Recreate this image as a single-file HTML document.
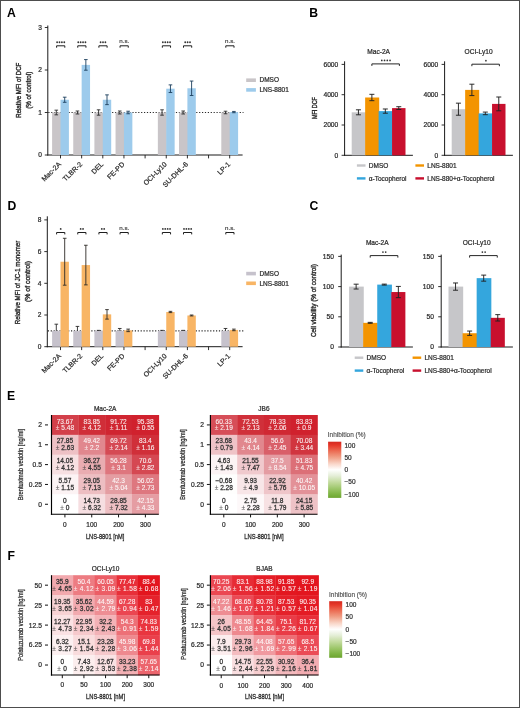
<!DOCTYPE html>
<html><head><meta charset="utf-8"><title>Figure</title>
<style>
html,body{margin:0;padding:0;background:#fff;overflow:hidden;}
svg{display:block;will-change:transform;}
text{font-family:"Liberation Sans", sans-serif;}
</style></head>
<body>
<svg width="520" height="708" viewBox="0 0 520 708" font-family='"Liberation Sans", sans-serif' fill="#2b2b2b">
<rect x="0" y="0" width="520" height="708" fill="#fff"/>
<text x="6.95" y="17.2" font-size="12.2" fill="#000" font-weight="bold" >A</text>
<text x="309.3" y="17.4" font-size="12.2" fill="#000" font-weight="bold" >B</text>
<text x="7.4" y="209.6" font-size="12.2" fill="#000" font-weight="bold" >D</text>
<text x="309.4" y="209.5" font-size="12.2" fill="#000" font-weight="bold" >C</text>
<text x="7.1" y="399.5" font-size="12.2" fill="#000" font-weight="bold" >E</text>
<text x="7.5" y="559.5" font-size="12.2" fill="#000" font-weight="bold" >F</text>
<line x1="47.8" y1="25.5" x2="47.8" y2="155.5" stroke="#1a1a1a" stroke-width="1" />
<line x1="47.3" y1="155" x2="242.6" y2="155" stroke="#1a1a1a" stroke-width="1" />
<line x1="44.8" y1="155" x2="47.8" y2="155" stroke="#1a1a1a" stroke-width="0.9" />
<text x="41.8" y="157.4" font-size="6.6" text-anchor="end" stroke="#2b2b2b" stroke-width="0.22" >0</text>
<line x1="44.8" y1="112.5" x2="47.8" y2="112.5" stroke="#1a1a1a" stroke-width="0.9" />
<text x="41.8" y="114.9" font-size="6.6" text-anchor="end" stroke="#2b2b2b" stroke-width="0.22" >1</text>
<line x1="44.8" y1="70" x2="47.8" y2="70" stroke="#1a1a1a" stroke-width="0.9" />
<text x="41.8" y="72.4" font-size="6.6" text-anchor="end" stroke="#2b2b2b" stroke-width="0.22" >2</text>
<line x1="44.8" y1="27.5" x2="47.8" y2="27.5" stroke="#1a1a1a" stroke-width="0.9" />
<text x="41.8" y="29.9" font-size="6.6" text-anchor="end" stroke="#2b2b2b" stroke-width="0.22" >3</text>
<line x1="60.5" y1="155" x2="60.5" y2="158.4" stroke="#1a1a1a" stroke-width="0.9" />
<line x1="81.65" y1="155" x2="81.65" y2="158.4" stroke="#1a1a1a" stroke-width="0.9" />
<line x1="102.8" y1="155" x2="102.8" y2="158.4" stroke="#1a1a1a" stroke-width="0.9" />
<line x1="123.95" y1="155" x2="123.95" y2="158.4" stroke="#1a1a1a" stroke-width="0.9" />
<line x1="145.1" y1="155" x2="145.1" y2="158.4" stroke="#1a1a1a" stroke-width="0.9" />
<line x1="166.25" y1="155" x2="166.25" y2="158.4" stroke="#1a1a1a" stroke-width="0.9" />
<line x1="187.4" y1="155" x2="187.4" y2="158.4" stroke="#1a1a1a" stroke-width="0.9" />
<line x1="208.55" y1="155" x2="208.55" y2="158.4" stroke="#1a1a1a" stroke-width="0.9" />
<line x1="229.7" y1="155" x2="229.7" y2="158.4" stroke="#1a1a1a" stroke-width="0.9" />
<line x1="48.3" y1="112.5" x2="243.5" y2="112.5" stroke="#2a2a2a" stroke-width="1.05" stroke-dasharray="1.2 1.7"/>
<rect x="52.1" y="112.5" width="9" height="42.5" fill="#c9c5c8" />
<rect x="60.5" y="99.75" width="8.4" height="55.25" fill="#9dcbec" />
<rect x="73.25" y="112.5" width="9" height="42.5" fill="#c9c5c8" />
<rect x="81.65" y="64.9" width="8.4" height="90.1" fill="#9dcbec" />
<rect x="94.4" y="112.5" width="9" height="42.5" fill="#c9c5c8" />
<rect x="102.8" y="99.75" width="8.4" height="55.25" fill="#9dcbec" />
<rect x="115.55" y="112.5" width="9" height="42.5" fill="#c9c5c8" />
<rect x="123.95" y="112.5" width="8.4" height="42.5" fill="#9dcbec" />
<rect x="157.85" y="112.5" width="9" height="42.5" fill="#c9c5c8" />
<rect x="166.25" y="88.7" width="8.4" height="66.3" fill="#9dcbec" />
<rect x="179" y="112.5" width="9" height="42.5" fill="#c9c5c8" />
<rect x="187.4" y="88.27" width="8.4" height="66.73" fill="#9dcbec" />
<rect x="221.3" y="112.5" width="9" height="42.5" fill="#c9c5c8" />
<rect x="229.7" y="112.08" width="8.4" height="42.92" fill="#9dcbec" />
<line x1="56.3" y1="110.16" x2="56.3" y2="114.84" stroke="#2a2a2a" stroke-width="0.9" />
<line x1="54.5" y1="110.16" x2="58.1" y2="110.16" stroke="#2a2a2a" stroke-width="0.9" />
<line x1="54.5" y1="114.84" x2="58.1" y2="114.84" stroke="#2a2a2a" stroke-width="0.9" />
<line x1="64.7" y1="97.2" x2="64.7" y2="102.3" stroke="#1c3f5e" stroke-width="0.9" />
<line x1="62.9" y1="97.2" x2="66.5" y2="97.2" stroke="#1c3f5e" stroke-width="0.9" />
<line x1="62.9" y1="102.3" x2="66.5" y2="102.3" stroke="#1c3f5e" stroke-width="0.9" />
<line x1="77.45" y1="111.01" x2="77.45" y2="113.99" stroke="#2a2a2a" stroke-width="0.9" />
<line x1="75.65" y1="111.01" x2="79.25" y2="111.01" stroke="#2a2a2a" stroke-width="0.9" />
<line x1="75.65" y1="113.99" x2="79.25" y2="113.99" stroke="#2a2a2a" stroke-width="0.9" />
<line x1="85.85" y1="59.59" x2="85.85" y2="70.21" stroke="#1c3f5e" stroke-width="0.9" />
<line x1="84.05" y1="59.59" x2="87.65" y2="59.59" stroke="#1c3f5e" stroke-width="0.9" />
<line x1="84.05" y1="70.21" x2="87.65" y2="70.21" stroke="#1c3f5e" stroke-width="0.9" />
<line x1="98.6" y1="109.82" x2="98.6" y2="115.18" stroke="#2a2a2a" stroke-width="0.9" />
<line x1="96.8" y1="109.82" x2="100.4" y2="109.82" stroke="#2a2a2a" stroke-width="0.9" />
<line x1="96.8" y1="115.18" x2="100.4" y2="115.18" stroke="#2a2a2a" stroke-width="0.9" />
<line x1="107" y1="94.86" x2="107" y2="104.64" stroke="#1c3f5e" stroke-width="0.9" />
<line x1="105.2" y1="94.86" x2="108.8" y2="94.86" stroke="#1c3f5e" stroke-width="0.9" />
<line x1="105.2" y1="104.64" x2="108.8" y2="104.64" stroke="#1c3f5e" stroke-width="0.9" />
<line x1="119.75" y1="111.01" x2="119.75" y2="113.99" stroke="#2a2a2a" stroke-width="0.9" />
<line x1="117.95" y1="111.01" x2="121.55" y2="111.01" stroke="#2a2a2a" stroke-width="0.9" />
<line x1="117.95" y1="113.99" x2="121.55" y2="113.99" stroke="#2a2a2a" stroke-width="0.9" />
<line x1="128.15" y1="111.22" x2="128.15" y2="113.78" stroke="#1c3f5e" stroke-width="0.9" />
<line x1="126.35" y1="111.22" x2="129.95" y2="111.22" stroke="#1c3f5e" stroke-width="0.9" />
<line x1="126.35" y1="113.78" x2="129.95" y2="113.78" stroke="#1c3f5e" stroke-width="0.9" />
<line x1="162.05" y1="109.82" x2="162.05" y2="115.18" stroke="#2a2a2a" stroke-width="0.9" />
<line x1="160.25" y1="109.82" x2="163.85" y2="109.82" stroke="#2a2a2a" stroke-width="0.9" />
<line x1="160.25" y1="115.18" x2="163.85" y2="115.18" stroke="#2a2a2a" stroke-width="0.9" />
<line x1="170.45" y1="84.88" x2="170.45" y2="92.53" stroke="#1c3f5e" stroke-width="0.9" />
<line x1="168.65" y1="84.88" x2="172.25" y2="84.88" stroke="#1c3f5e" stroke-width="0.9" />
<line x1="168.65" y1="92.53" x2="172.25" y2="92.53" stroke="#1c3f5e" stroke-width="0.9" />
<line x1="183.2" y1="111.01" x2="183.2" y2="113.99" stroke="#2a2a2a" stroke-width="0.9" />
<line x1="181.4" y1="111.01" x2="185" y2="111.01" stroke="#2a2a2a" stroke-width="0.9" />
<line x1="181.4" y1="113.99" x2="185" y2="113.99" stroke="#2a2a2a" stroke-width="0.9" />
<line x1="191.6" y1="81.05" x2="191.6" y2="95.5" stroke="#1c3f5e" stroke-width="0.9" />
<line x1="189.8" y1="81.05" x2="193.4" y2="81.05" stroke="#1c3f5e" stroke-width="0.9" />
<line x1="189.8" y1="95.5" x2="193.4" y2="95.5" stroke="#1c3f5e" stroke-width="0.9" />
<line x1="225.5" y1="111.22" x2="225.5" y2="113.78" stroke="#2a2a2a" stroke-width="0.9" />
<line x1="223.7" y1="111.22" x2="227.3" y2="111.22" stroke="#2a2a2a" stroke-width="0.9" />
<line x1="223.7" y1="113.78" x2="227.3" y2="113.78" stroke="#2a2a2a" stroke-width="0.9" />
<line x1="233.9" y1="111.44" x2="233.9" y2="112.71" stroke="#1c3f5e" stroke-width="0.9" />
<line x1="232.1" y1="111.44" x2="235.7" y2="111.44" stroke="#1c3f5e" stroke-width="0.9" />
<line x1="232.1" y1="112.71" x2="235.7" y2="112.71" stroke="#1c3f5e" stroke-width="0.9" />
<path d="M56.6,47.7 V45.8 H64.8 V47.7" fill="none" stroke="#1e1e1e" stroke-width="1"/>
<circle cx="57.1" cy="42.25" r="0.9" fill="#333"/>
<circle cx="59.5" cy="42.25" r="0.9" fill="#333"/>
<circle cx="61.9" cy="42.25" r="0.9" fill="#333"/>
<circle cx="64.3" cy="42.25" r="0.9" fill="#333"/>
<path d="M77.75,47.7 V45.8 H85.95 V47.7" fill="none" stroke="#1e1e1e" stroke-width="1"/>
<circle cx="78.25" cy="42.25" r="0.9" fill="#333"/>
<circle cx="80.65" cy="42.25" r="0.9" fill="#333"/>
<circle cx="83.05" cy="42.25" r="0.9" fill="#333"/>
<circle cx="85.45" cy="42.25" r="0.9" fill="#333"/>
<path d="M98.9,47.7 V45.8 H107.1 V47.7" fill="none" stroke="#1e1e1e" stroke-width="1"/>
<circle cx="100.6" cy="42.25" r="0.9" fill="#333"/>
<circle cx="103" cy="42.25" r="0.9" fill="#333"/>
<circle cx="105.4" cy="42.25" r="0.9" fill="#333"/>
<path d="M120.05,47.7 V45.8 H128.25 V47.7" fill="none" stroke="#1e1e1e" stroke-width="1"/>
<text x="124.25" y="43.2" font-size="6.2" text-anchor="middle" stroke="#2b2b2b" stroke-width="0.12" >n.s.</text>
<path d="M162.35,47.7 V45.8 H170.55 V47.7" fill="none" stroke="#1e1e1e" stroke-width="1"/>
<circle cx="162.85" cy="42.25" r="0.9" fill="#333"/>
<circle cx="165.25" cy="42.25" r="0.9" fill="#333"/>
<circle cx="167.65" cy="42.25" r="0.9" fill="#333"/>
<circle cx="170.05" cy="42.25" r="0.9" fill="#333"/>
<path d="M183.5,47.7 V45.8 H191.7 V47.7" fill="none" stroke="#1e1e1e" stroke-width="1"/>
<circle cx="185.2" cy="42.25" r="0.9" fill="#333"/>
<circle cx="187.6" cy="42.25" r="0.9" fill="#333"/>
<circle cx="190" cy="42.25" r="0.9" fill="#333"/>
<path d="M225.8,47.7 V45.8 H234 V47.7" fill="none" stroke="#1e1e1e" stroke-width="1"/>
<text x="230" y="43.2" font-size="6.2" text-anchor="middle" stroke="#2b2b2b" stroke-width="0.12" >n.s.</text>
<text transform="translate(61.5,164.8) rotate(-45)" font-size="7" text-anchor="end" stroke="#2b2b2b" stroke-width="0.22" >Mac-2A</text>
<text transform="translate(82.65,164.8) rotate(-45)" font-size="7" text-anchor="end" stroke="#2b2b2b" stroke-width="0.22" >TLBR-2</text>
<text transform="translate(103.8,164.8) rotate(-45)" font-size="7" text-anchor="end" stroke="#2b2b2b" stroke-width="0.22" >DEL</text>
<text transform="translate(124.95,164.8) rotate(-45)" font-size="7" text-anchor="end" stroke="#2b2b2b" stroke-width="0.22" >FE-PD</text>
<text transform="translate(167.25,164.8) rotate(-45)" font-size="7" text-anchor="end" stroke="#2b2b2b" stroke-width="0.22" >OCI-Ly10</text>
<text transform="translate(188.4,164.8) rotate(-45)" font-size="7" text-anchor="end" stroke="#2b2b2b" stroke-width="0.22" >SU-DHL-6</text>
<text transform="translate(230.7,164.8) rotate(-45)" font-size="7" text-anchor="end" stroke="#2b2b2b" stroke-width="0.22" >LP-1</text>
<text transform="translate(21.2,90.25) rotate(-90)" font-size="7.3" text-anchor="middle" textLength="55" lengthAdjust="spacingAndGlyphs" stroke="#2b2b2b" stroke-width="0.38" >Relative MFI of DCF</text>
<text transform="translate(30.7,90.25) rotate(-90)" font-size="7.3" text-anchor="middle" textLength="37" lengthAdjust="spacingAndGlyphs" stroke="#2b2b2b" stroke-width="0.38" >(% of control)</text>
<rect x="246.2" y="78.4" width="9.7" height="3.6" fill="#c9c5c8" />
<text x="259.5" y="82.4" font-size="6.5" stroke="#2b2b2b" stroke-width="0.22" >DMSO</text>
<rect x="246.2" y="88.1" width="9.7" height="3.6" fill="#9dcbec" />
<text x="259.5" y="92.2" font-size="6.5" stroke="#2b2b2b" stroke-width="0.22" >LNS-8801</text>
<line x1="47.3" y1="216.3" x2="47.3" y2="347.2" stroke="#1a1a1a" stroke-width="1" />
<line x1="46.8" y1="346.7" x2="242.6" y2="346.7" stroke="#1a1a1a" stroke-width="1" />
<line x1="44.3" y1="346.7" x2="47.3" y2="346.7" stroke="#1a1a1a" stroke-width="0.9" />
<text x="41.3" y="349.1" font-size="6.6" text-anchor="end" stroke="#2b2b2b" stroke-width="0.22" >0</text>
<line x1="44.3" y1="315" x2="47.3" y2="315" stroke="#1a1a1a" stroke-width="0.9" />
<text x="41.3" y="317.4" font-size="6.6" text-anchor="end" stroke="#2b2b2b" stroke-width="0.22" >2</text>
<line x1="44.3" y1="283.3" x2="47.3" y2="283.3" stroke="#1a1a1a" stroke-width="0.9" />
<text x="41.3" y="285.7" font-size="6.6" text-anchor="end" stroke="#2b2b2b" stroke-width="0.22" >4</text>
<line x1="44.3" y1="251.6" x2="47.3" y2="251.6" stroke="#1a1a1a" stroke-width="0.9" />
<text x="41.3" y="254" font-size="6.6" text-anchor="end" stroke="#2b2b2b" stroke-width="0.22" >6</text>
<line x1="44.3" y1="219.9" x2="47.3" y2="219.9" stroke="#1a1a1a" stroke-width="0.9" />
<text x="41.3" y="222.3" font-size="6.6" text-anchor="end" stroke="#2b2b2b" stroke-width="0.22" >8</text>
<line x1="60.5" y1="346.7" x2="60.5" y2="350.1" stroke="#1a1a1a" stroke-width="0.9" />
<line x1="81.65" y1="346.7" x2="81.65" y2="350.1" stroke="#1a1a1a" stroke-width="0.9" />
<line x1="102.8" y1="346.7" x2="102.8" y2="350.1" stroke="#1a1a1a" stroke-width="0.9" />
<line x1="123.95" y1="346.7" x2="123.95" y2="350.1" stroke="#1a1a1a" stroke-width="0.9" />
<line x1="145.1" y1="346.7" x2="145.1" y2="350.1" stroke="#1a1a1a" stroke-width="0.9" />
<line x1="166.25" y1="346.7" x2="166.25" y2="350.1" stroke="#1a1a1a" stroke-width="0.9" />
<line x1="187.4" y1="346.7" x2="187.4" y2="350.1" stroke="#1a1a1a" stroke-width="0.9" />
<line x1="208.55" y1="346.7" x2="208.55" y2="350.1" stroke="#1a1a1a" stroke-width="0.9" />
<line x1="229.7" y1="346.7" x2="229.7" y2="350.1" stroke="#1a1a1a" stroke-width="0.9" />
<line x1="47.8" y1="330.85" x2="243.5" y2="330.85" stroke="#2a2a2a" stroke-width="1.05" stroke-dasharray="1.2 1.7"/>
<rect x="52.1" y="330.85" width="9" height="15.85" fill="#c6c2cc" />
<rect x="60.5" y="261.74" width="8.4" height="84.96" fill="#f8b565" />
<rect x="73.25" y="330.85" width="9" height="15.85" fill="#c6c2cc" />
<rect x="81.65" y="265.07" width="8.4" height="81.63" fill="#f8b565" />
<rect x="94.4" y="330.85" width="9" height="15.85" fill="#c6c2cc" />
<rect x="102.8" y="314.37" width="8.4" height="32.33" fill="#f8b565" />
<rect x="115.55" y="330.85" width="9" height="15.85" fill="#c6c2cc" />
<rect x="123.95" y="330.37" width="8.4" height="16.33" fill="#f8b565" />
<rect x="157.85" y="330.85" width="9" height="15.85" fill="#c6c2cc" />
<rect x="166.25" y="311.99" width="8.4" height="34.71" fill="#f8b565" />
<rect x="179" y="330.85" width="9" height="15.85" fill="#c6c2cc" />
<rect x="187.4" y="315.48" width="8.4" height="31.22" fill="#f8b565" />
<rect x="221.3" y="330.85" width="9" height="15.85" fill="#c6c2cc" />
<rect x="229.7" y="329.9" width="8.4" height="16.8" fill="#f8b565" />
<line x1="56.3" y1="324.19" x2="56.3" y2="330.85" stroke="#2a2a2a" stroke-width="0.9" />
<line x1="54.5" y1="324.19" x2="58.1" y2="324.19" stroke="#2a2a2a" stroke-width="0.9" />
<line x1="64.7" y1="238.29" x2="64.7" y2="285.2" stroke="#2e2a26" stroke-width="0.9" />
<line x1="62.9" y1="238.29" x2="66.5" y2="238.29" stroke="#2e2a26" stroke-width="0.9" />
<line x1="62.9" y1="285.2" x2="66.5" y2="285.2" stroke="#2e2a26" stroke-width="0.9" />
<line x1="77.45" y1="326.41" x2="77.45" y2="330.85" stroke="#2a2a2a" stroke-width="0.9" />
<line x1="75.65" y1="326.41" x2="79.25" y2="326.41" stroke="#2a2a2a" stroke-width="0.9" />
<line x1="85.85" y1="245.26" x2="85.85" y2="284.88" stroke="#2e2a26" stroke-width="0.9" />
<line x1="84.05" y1="245.26" x2="87.65" y2="245.26" stroke="#2e2a26" stroke-width="0.9" />
<line x1="84.05" y1="284.88" x2="87.65" y2="284.88" stroke="#2e2a26" stroke-width="0.9" />
<line x1="98.6" y1="330.37" x2="98.6" y2="330.85" stroke="#2a2a2a" stroke-width="0.9" />
<line x1="96.8" y1="330.37" x2="100.4" y2="330.37" stroke="#2a2a2a" stroke-width="0.9" />
<line x1="107" y1="309.61" x2="107" y2="319.12" stroke="#2e2a26" stroke-width="0.9" />
<line x1="105.2" y1="309.61" x2="108.8" y2="309.61" stroke="#2e2a26" stroke-width="0.9" />
<line x1="105.2" y1="319.12" x2="108.8" y2="319.12" stroke="#2e2a26" stroke-width="0.9" />
<line x1="119.75" y1="328.47" x2="119.75" y2="330.85" stroke="#2a2a2a" stroke-width="0.9" />
<line x1="117.95" y1="328.47" x2="121.55" y2="328.47" stroke="#2a2a2a" stroke-width="0.9" />
<line x1="128.15" y1="329.11" x2="128.15" y2="331.64" stroke="#2e2a26" stroke-width="0.9" />
<line x1="126.35" y1="329.11" x2="129.95" y2="329.11" stroke="#2e2a26" stroke-width="0.9" />
<line x1="126.35" y1="331.64" x2="129.95" y2="331.64" stroke="#2e2a26" stroke-width="0.9" />
<line x1="162.05" y1="330.37" x2="162.05" y2="330.85" stroke="#2a2a2a" stroke-width="0.9" />
<line x1="160.25" y1="330.37" x2="163.85" y2="330.37" stroke="#2a2a2a" stroke-width="0.9" />
<line x1="170.45" y1="311.35" x2="170.45" y2="312.62" stroke="#2e2a26" stroke-width="0.9" />
<line x1="168.65" y1="311.35" x2="172.25" y2="311.35" stroke="#2e2a26" stroke-width="0.9" />
<line x1="168.65" y1="312.62" x2="172.25" y2="312.62" stroke="#2e2a26" stroke-width="0.9" />
<line x1="183.2" y1="330.37" x2="183.2" y2="330.85" stroke="#2a2a2a" stroke-width="0.9" />
<line x1="181.4" y1="330.37" x2="185" y2="330.37" stroke="#2a2a2a" stroke-width="0.9" />
<line x1="191.6" y1="315" x2="191.6" y2="315.95" stroke="#2e2a26" stroke-width="0.9" />
<line x1="189.8" y1="315" x2="193.4" y2="315" stroke="#2e2a26" stroke-width="0.9" />
<line x1="189.8" y1="315.95" x2="193.4" y2="315.95" stroke="#2e2a26" stroke-width="0.9" />
<line x1="225.5" y1="328.47" x2="225.5" y2="330.85" stroke="#2a2a2a" stroke-width="0.9" />
<line x1="223.7" y1="328.47" x2="227.3" y2="328.47" stroke="#2a2a2a" stroke-width="0.9" />
<line x1="233.9" y1="329.11" x2="233.9" y2="330.69" stroke="#2e2a26" stroke-width="0.9" />
<line x1="232.1" y1="329.11" x2="235.7" y2="329.11" stroke="#2e2a26" stroke-width="0.9" />
<line x1="232.1" y1="330.69" x2="235.7" y2="330.69" stroke="#2e2a26" stroke-width="0.9" />
<path d="M56.6,234.4 V232.5 H64.8 V234.4" fill="none" stroke="#1e1e1e" stroke-width="1"/>
<circle cx="60.7" cy="228.95" r="0.9" fill="#333"/>
<path d="M77.75,234.4 V232.5 H85.95 V234.4" fill="none" stroke="#1e1e1e" stroke-width="1"/>
<circle cx="80.65" cy="228.95" r="0.9" fill="#333"/>
<circle cx="83.05" cy="228.95" r="0.9" fill="#333"/>
<path d="M98.9,234.4 V232.5 H107.1 V234.4" fill="none" stroke="#1e1e1e" stroke-width="1"/>
<circle cx="101.8" cy="228.95" r="0.9" fill="#333"/>
<circle cx="104.2" cy="228.95" r="0.9" fill="#333"/>
<path d="M120.05,234.4 V232.5 H128.25 V234.4" fill="none" stroke="#1e1e1e" stroke-width="1"/>
<text x="124.25" y="229.9" font-size="6.2" text-anchor="middle" stroke="#2b2b2b" stroke-width="0.12" >n.s.</text>
<path d="M162.35,234.4 V232.5 H170.55 V234.4" fill="none" stroke="#1e1e1e" stroke-width="1"/>
<circle cx="162.85" cy="228.95" r="0.9" fill="#333"/>
<circle cx="165.25" cy="228.95" r="0.9" fill="#333"/>
<circle cx="167.65" cy="228.95" r="0.9" fill="#333"/>
<circle cx="170.05" cy="228.95" r="0.9" fill="#333"/>
<path d="M183.5,234.4 V232.5 H191.7 V234.4" fill="none" stroke="#1e1e1e" stroke-width="1"/>
<circle cx="184" cy="228.95" r="0.9" fill="#333"/>
<circle cx="186.4" cy="228.95" r="0.9" fill="#333"/>
<circle cx="188.8" cy="228.95" r="0.9" fill="#333"/>
<circle cx="191.2" cy="228.95" r="0.9" fill="#333"/>
<path d="M225.8,234.4 V232.5 H234 V234.4" fill="none" stroke="#1e1e1e" stroke-width="1"/>
<text x="230" y="229.9" font-size="6.2" text-anchor="middle" stroke="#2b2b2b" stroke-width="0.12" >n.s.</text>
<text transform="translate(61.5,356.5) rotate(-45)" font-size="7" text-anchor="end" stroke="#2b2b2b" stroke-width="0.22" >Mac-2A</text>
<text transform="translate(82.65,356.5) rotate(-45)" font-size="7" text-anchor="end" stroke="#2b2b2b" stroke-width="0.22" >TLBR-2</text>
<text transform="translate(103.8,356.5) rotate(-45)" font-size="7" text-anchor="end" stroke="#2b2b2b" stroke-width="0.22" >DEL</text>
<text transform="translate(124.95,356.5) rotate(-45)" font-size="7" text-anchor="end" stroke="#2b2b2b" stroke-width="0.22" >FE-PD</text>
<text transform="translate(167.25,356.5) rotate(-45)" font-size="7" text-anchor="end" stroke="#2b2b2b" stroke-width="0.22" >OCI-Ly10</text>
<text transform="translate(188.4,356.5) rotate(-45)" font-size="7" text-anchor="end" stroke="#2b2b2b" stroke-width="0.22" >SU-DHL-6</text>
<text transform="translate(230.7,356.5) rotate(-45)" font-size="7" text-anchor="end" stroke="#2b2b2b" stroke-width="0.22" >LP-1</text>
<text transform="translate(20.3,282.5) rotate(-90)" font-size="7.3" text-anchor="middle" textLength="83.5" lengthAdjust="spacingAndGlyphs" stroke="#2b2b2b" stroke-width="0.38" >Relative MFI of JC-1 monomer</text>
<text transform="translate(29.7,281.5) rotate(-90)" font-size="7.3" text-anchor="middle" textLength="41" lengthAdjust="spacingAndGlyphs" stroke="#2b2b2b" stroke-width="0.38" >(% of control)</text>
<rect x="246.2" y="271.8" width="9.7" height="3.6" fill="#c6c2cc" />
<text x="259.5" y="275.8" font-size="6.5" stroke="#2b2b2b" stroke-width="0.22" >DMSO</text>
<rect x="246.2" y="281.5" width="9.7" height="3.6" fill="#f8b565" />
<text x="259.5" y="285.6" font-size="6.5" stroke="#2b2b2b" stroke-width="0.22" >LNS-8801</text>
<line x1="344.6" y1="61.3" x2="344.6" y2="155.8" stroke="#1a1a1a" stroke-width="1" />
<line x1="344.1" y1="155.3" x2="412.9" y2="155.3" stroke="#1a1a1a" stroke-width="1" />
<line x1="341.6" y1="155.3" x2="344.6" y2="155.3" stroke="#1a1a1a" stroke-width="0.9" />
<text x="338.3" y="157.7" font-size="6.7" text-anchor="end" stroke="#2b2b2b" stroke-width="0.22" >0</text>
<line x1="341.6" y1="125" x2="344.6" y2="125" stroke="#1a1a1a" stroke-width="0.9" />
<text x="338.3" y="127.4" font-size="6.7" text-anchor="end" stroke="#2b2b2b" stroke-width="0.22" >2000</text>
<line x1="341.6" y1="94.7" x2="344.6" y2="94.7" stroke="#1a1a1a" stroke-width="0.9" />
<text x="338.3" y="97.1" font-size="6.7" text-anchor="end" stroke="#2b2b2b" stroke-width="0.22" >4000</text>
<line x1="341.6" y1="64.4" x2="344.6" y2="64.4" stroke="#1a1a1a" stroke-width="0.9" />
<text x="338.3" y="66.8" font-size="6.7" text-anchor="end" stroke="#2b2b2b" stroke-width="0.22" >6000</text>
<rect x="351.7" y="112.3" width="14.05" height="43" fill="#c6c6c9" />
<rect x="365.15" y="97.5" width="14.05" height="57.8" fill="#f39400" />
<rect x="378.6" y="111.11" width="14.05" height="44.19" fill="#34a6dd" />
<rect x="392.05" y="108.11" width="13.45" height="47.19" fill="#c8102e" />
<line x1="358.43" y1="109.8" x2="358.43" y2="114.8" stroke="#222" stroke-width="0.95" />
<line x1="355.93" y1="109.8" x2="360.93" y2="109.8" stroke="#222" stroke-width="0.95" />
<line x1="355.93" y1="114.8" x2="360.93" y2="114.8" stroke="#222" stroke-width="0.95" />
<line x1="371.88" y1="94.32" x2="371.88" y2="100.68" stroke="#222" stroke-width="0.95" />
<line x1="369.38" y1="94.32" x2="374.38" y2="94.32" stroke="#222" stroke-width="0.95" />
<line x1="369.38" y1="100.68" x2="374.38" y2="100.68" stroke="#222" stroke-width="0.95" />
<line x1="385.32" y1="108.99" x2="385.32" y2="113.23" stroke="#222" stroke-width="0.95" />
<line x1="382.82" y1="108.99" x2="387.82" y2="108.99" stroke="#222" stroke-width="0.95" />
<line x1="382.82" y1="113.23" x2="387.82" y2="113.23" stroke="#222" stroke-width="0.95" />
<line x1="398.77" y1="106.71" x2="398.77" y2="109.5" stroke="#222" stroke-width="0.95" />
<line x1="396.27" y1="106.71" x2="401.27" y2="106.71" stroke="#222" stroke-width="0.95" />
<line x1="396.27" y1="109.5" x2="401.27" y2="109.5" stroke="#222" stroke-width="0.95" />
<path d="M371.88,65.9 V63.9 H399.38 V65.9" fill="none" stroke="#262626" stroke-width="1"/>
<circle cx="381.8" cy="60.4" r="0.85" fill="#333"/>
<circle cx="384.55" cy="60.4" r="0.85" fill="#333"/>
<circle cx="387.3" cy="60.4" r="0.85" fill="#333"/>
<circle cx="390.05" cy="60.4" r="0.85" fill="#333"/>
<text x="378.6" y="53.9" font-size="6.6" text-anchor="middle" stroke="#2b2b2b" stroke-width="0.22" >Mac-2A</text>
<text transform="translate(316.5,108.1) rotate(-90)" font-size="7.3" text-anchor="middle" textLength="22" lengthAdjust="spacingAndGlyphs" stroke="#2b2b2b" stroke-width="0.38" >MFI DCF</text>
<line x1="444.6" y1="61.3" x2="444.6" y2="155.8" stroke="#1a1a1a" stroke-width="1" />
<line x1="444.1" y1="155.3" x2="512.9" y2="155.3" stroke="#1a1a1a" stroke-width="1" />
<line x1="441.6" y1="155.3" x2="444.6" y2="155.3" stroke="#1a1a1a" stroke-width="0.9" />
<text x="438.3" y="157.7" font-size="6.7" text-anchor="end" stroke="#2b2b2b" stroke-width="0.22" >0</text>
<line x1="441.6" y1="125" x2="444.6" y2="125" stroke="#1a1a1a" stroke-width="0.9" />
<text x="438.3" y="127.4" font-size="6.7" text-anchor="end" stroke="#2b2b2b" stroke-width="0.22" >2000</text>
<line x1="441.6" y1="94.7" x2="444.6" y2="94.7" stroke="#1a1a1a" stroke-width="0.9" />
<text x="438.3" y="97.1" font-size="6.7" text-anchor="end" stroke="#2b2b2b" stroke-width="0.22" >4000</text>
<line x1="441.6" y1="64.4" x2="444.6" y2="64.4" stroke="#1a1a1a" stroke-width="0.9" />
<text x="438.3" y="66.8" font-size="6.7" text-anchor="end" stroke="#2b2b2b" stroke-width="0.22" >6000</text>
<rect x="451.7" y="109.2" width="14.05" height="46.1" fill="#c6c6c9" />
<rect x="465.15" y="89.9" width="14.05" height="65.4" fill="#f39400" />
<rect x="478.6" y="113.4" width="14.05" height="41.9" fill="#34a6dd" />
<rect x="492.05" y="103.9" width="13.45" height="51.4" fill="#c8102e" />
<line x1="458.43" y1="103.17" x2="458.43" y2="115.23" stroke="#222" stroke-width="0.95" />
<line x1="455.93" y1="103.17" x2="460.93" y2="103.17" stroke="#222" stroke-width="0.95" />
<line x1="455.93" y1="115.23" x2="460.93" y2="115.23" stroke="#222" stroke-width="0.95" />
<line x1="471.88" y1="84.2" x2="471.88" y2="95.59" stroke="#222" stroke-width="0.95" />
<line x1="469.38" y1="84.2" x2="474.38" y2="84.2" stroke="#222" stroke-width="0.95" />
<line x1="469.38" y1="95.59" x2="474.38" y2="95.59" stroke="#222" stroke-width="0.95" />
<line x1="485.32" y1="112.09" x2="485.32" y2="114.7" stroke="#222" stroke-width="0.95" />
<line x1="482.82" y1="112.09" x2="487.82" y2="112.09" stroke="#222" stroke-width="0.95" />
<line x1="482.82" y1="114.7" x2="487.82" y2="114.7" stroke="#222" stroke-width="0.95" />
<line x1="498.77" y1="97" x2="498.77" y2="110.79" stroke="#222" stroke-width="0.95" />
<line x1="496.27" y1="97" x2="501.27" y2="97" stroke="#222" stroke-width="0.95" />
<line x1="496.27" y1="110.79" x2="501.27" y2="110.79" stroke="#222" stroke-width="0.95" />
<path d="M471.88,66.2 V64.2 H499.38 V66.2" fill="none" stroke="#262626" stroke-width="1"/>
<circle cx="485.93" cy="60.7" r="0.85" fill="#333"/>
<text x="478.6" y="53.9" font-size="6.6" text-anchor="middle" stroke="#2b2b2b" stroke-width="0.22" >OCI-Ly10</text>
<line x1="341.2" y1="254.6" x2="341.2" y2="347.5" stroke="#1a1a1a" stroke-width="1" />
<line x1="340.7" y1="347" x2="412.9" y2="347" stroke="#1a1a1a" stroke-width="1" />
<line x1="338.2" y1="347" x2="341.2" y2="347" stroke="#1a1a1a" stroke-width="0.9" />
<text x="333.9" y="349.4" font-size="6.7" text-anchor="end" stroke="#2b2b2b" stroke-width="0.22" >0</text>
<line x1="338.2" y1="316.8" x2="341.2" y2="316.8" stroke="#1a1a1a" stroke-width="0.9" />
<text x="333.9" y="319.2" font-size="6.7" text-anchor="end" stroke="#2b2b2b" stroke-width="0.22" >50</text>
<line x1="338.2" y1="286.6" x2="341.2" y2="286.6" stroke="#1a1a1a" stroke-width="0.9" />
<text x="333.9" y="289" font-size="6.7" text-anchor="end" stroke="#2b2b2b" stroke-width="0.22" >100</text>
<line x1="338.2" y1="256.4" x2="341.2" y2="256.4" stroke="#1a1a1a" stroke-width="0.9" />
<text x="333.9" y="258.8" font-size="6.7" text-anchor="end" stroke="#2b2b2b" stroke-width="0.22" >150</text>
<rect x="349.1" y="286.6" width="14.67" height="60.4" fill="#c6c6c9" />
<rect x="363.17" y="322.84" width="14.67" height="24.16" fill="#f39400" />
<rect x="377.24" y="284.61" width="14.67" height="62.39" fill="#34a6dd" />
<rect x="391.31" y="292.04" width="14.07" height="54.96" fill="#c8102e" />
<line x1="356.14" y1="284.18" x2="356.14" y2="289.02" stroke="#222" stroke-width="0.95" />
<line x1="353.64" y1="284.18" x2="358.64" y2="284.18" stroke="#222" stroke-width="0.95" />
<line x1="353.64" y1="289.02" x2="358.64" y2="289.02" stroke="#222" stroke-width="0.95" />
<line x1="370.21" y1="322.36" x2="370.21" y2="323.32" stroke="#222" stroke-width="0.95" />
<line x1="367.71" y1="322.36" x2="372.71" y2="322.36" stroke="#222" stroke-width="0.95" />
<line x1="367.71" y1="323.32" x2="372.71" y2="323.32" stroke="#222" stroke-width="0.95" />
<line x1="384.28" y1="284.12" x2="384.28" y2="285.09" stroke="#222" stroke-width="0.95" />
<line x1="381.78" y1="284.12" x2="386.78" y2="284.12" stroke="#222" stroke-width="0.95" />
<line x1="381.78" y1="285.09" x2="386.78" y2="285.09" stroke="#222" stroke-width="0.95" />
<line x1="398.35" y1="286.42" x2="398.35" y2="297.65" stroke="#222" stroke-width="0.95" />
<line x1="395.85" y1="286.42" x2="400.85" y2="286.42" stroke="#222" stroke-width="0.95" />
<line x1="395.85" y1="297.65" x2="400.85" y2="297.65" stroke="#222" stroke-width="0.95" />
<path d="M370.21,257.6 V255.6 H397.85 V257.6" fill="none" stroke="#262626" stroke-width="1"/>
<circle cx="382.95" cy="252.1" r="0.85" fill="#333"/>
<circle cx="385.7" cy="252.1" r="0.85" fill="#333"/>
<text x="377.24" y="245.3" font-size="6.6" text-anchor="middle" stroke="#2b2b2b" stroke-width="0.22" >Mac-2A</text>
<text transform="translate(316,300.6) rotate(-90)" font-size="7.3" text-anchor="middle" textLength="73" lengthAdjust="spacingAndGlyphs" stroke="#2b2b2b" stroke-width="0.38" >Cell viability (% of control)</text>
<line x1="441.2" y1="254.6" x2="441.2" y2="347.5" stroke="#1a1a1a" stroke-width="1" />
<line x1="440.7" y1="347" x2="512.9" y2="347" stroke="#1a1a1a" stroke-width="1" />
<line x1="438.2" y1="347" x2="441.2" y2="347" stroke="#1a1a1a" stroke-width="0.9" />
<text x="433.9" y="349.4" font-size="6.7" text-anchor="end" stroke="#2b2b2b" stroke-width="0.22" >0</text>
<line x1="438.2" y1="316.8" x2="441.2" y2="316.8" stroke="#1a1a1a" stroke-width="0.9" />
<text x="433.9" y="319.2" font-size="6.7" text-anchor="end" stroke="#2b2b2b" stroke-width="0.22" >50</text>
<line x1="438.2" y1="286.6" x2="441.2" y2="286.6" stroke="#1a1a1a" stroke-width="0.9" />
<text x="433.9" y="289" font-size="6.7" text-anchor="end" stroke="#2b2b2b" stroke-width="0.22" >100</text>
<line x1="438.2" y1="256.4" x2="441.2" y2="256.4" stroke="#1a1a1a" stroke-width="0.9" />
<text x="433.9" y="258.8" font-size="6.7" text-anchor="end" stroke="#2b2b2b" stroke-width="0.22" >150</text>
<rect x="448.5" y="286.6" width="14.68" height="60.4" fill="#c6c6c9" />
<rect x="462.58" y="333.23" width="14.68" height="13.77" fill="#f39400" />
<rect x="476.66" y="278.14" width="14.68" height="68.86" fill="#34a6dd" />
<rect x="490.74" y="317.83" width="14.08" height="29.17" fill="#c8102e" />
<line x1="455.54" y1="282.98" x2="455.54" y2="290.22" stroke="#222" stroke-width="0.95" />
<line x1="453.04" y1="282.98" x2="458.04" y2="282.98" stroke="#222" stroke-width="0.95" />
<line x1="453.04" y1="290.22" x2="458.04" y2="290.22" stroke="#222" stroke-width="0.95" />
<line x1="469.62" y1="331.05" x2="469.62" y2="335.4" stroke="#222" stroke-width="0.95" />
<line x1="467.12" y1="331.05" x2="472.12" y2="331.05" stroke="#222" stroke-width="0.95" />
<line x1="467.12" y1="335.4" x2="472.12" y2="335.4" stroke="#222" stroke-width="0.95" />
<line x1="483.7" y1="275.12" x2="483.7" y2="281.16" stroke="#222" stroke-width="0.95" />
<line x1="481.2" y1="275.12" x2="486.2" y2="275.12" stroke="#222" stroke-width="0.95" />
<line x1="481.2" y1="281.16" x2="486.2" y2="281.16" stroke="#222" stroke-width="0.95" />
<line x1="497.78" y1="314.63" x2="497.78" y2="321.03" stroke="#222" stroke-width="0.95" />
<line x1="495.28" y1="314.63" x2="500.28" y2="314.63" stroke="#222" stroke-width="0.95" />
<line x1="495.28" y1="321.03" x2="500.28" y2="321.03" stroke="#222" stroke-width="0.95" />
<path d="M469.62,257.6 V255.6 H497.28 V257.6" fill="none" stroke="#262626" stroke-width="1"/>
<circle cx="482.38" cy="252.1" r="0.85" fill="#333"/>
<circle cx="485.12" cy="252.1" r="0.85" fill="#333"/>
<text x="476.66" y="245.3" font-size="6.6" text-anchor="middle" stroke="#2b2b2b" stroke-width="0.22" >OCI-Ly10</text>
<rect x="356.9" y="164.3" width="8.6" height="2.4" fill="#c6c6c9" />
<text x="368.8" y="167.7" font-size="6.5" stroke="#2b2b2b" stroke-width="0.22" >DMSO</text>
<rect x="415.4" y="164.3" width="8.6" height="2.4" fill="#f39400" />
<text x="427.3" y="167.7" font-size="6.5" stroke="#2b2b2b" stroke-width="0.22" >LNS-8801</text>
<rect x="356.9" y="177.2" width="8.6" height="2.4" fill="#34a6dd" />
<text x="368.8" y="180.6" font-size="6.5" stroke="#2b2b2b" stroke-width="0.22" >α-Tocopherol</text>
<rect x="415.4" y="177.2" width="8.6" height="2.4" fill="#c8102e" />
<text x="427.3" y="180.6" font-size="6.5" stroke="#2b2b2b" stroke-width="0.22" >LNS-880+α-Tocopherol</text>
<rect x="354.7" y="356.5" width="8.6" height="2.4" fill="#c6c6c9" />
<text x="366.6" y="359.9" font-size="6.5" stroke="#2b2b2b" stroke-width="0.22" >DMSO</text>
<rect x="412.6" y="356.5" width="8.6" height="2.4" fill="#f39400" />
<text x="424.5" y="359.9" font-size="6.5" stroke="#2b2b2b" stroke-width="0.22" >LNS-8801</text>
<rect x="354.7" y="369.4" width="8.6" height="2.4" fill="#34a6dd" />
<text x="366.6" y="372.8" font-size="6.5" stroke="#2b2b2b" stroke-width="0.22" >α-Tocopherol</text>
<rect x="412.6" y="369.4" width="8.6" height="2.4" fill="#c8102e" />
<text x="424.5" y="372.8" font-size="6.5" stroke="#2b2b2b" stroke-width="0.22" >LNS-880+α-Tocopherol</text>
<rect x="51.5" y="415" width="27.13" height="20.14" fill="#d3404a" />
<rect x="78.33" y="415" width="27.13" height="20.14" fill="#d02e38" />
<rect x="105.15" y="415" width="27.13" height="20.14" fill="#d02531" />
<rect x="131.98" y="415" width="27.13" height="20.14" fill="#d0212d" />
<rect x="51.5" y="434.84" width="27.13" height="20.14" fill="#eec1c5" />
<rect x="78.33" y="434.84" width="27.13" height="20.14" fill="#e1878e" />
<rect x="105.15" y="434.84" width="27.13" height="20.14" fill="#d54a54" />
<rect x="131.98" y="434.84" width="27.13" height="20.14" fill="#d02f39" />
<rect x="51.5" y="454.68" width="27.13" height="20.14" fill="#f7e0e2" />
<rect x="78.33" y="454.68" width="27.13" height="20.14" fill="#e9acb1" />
<rect x="105.15" y="454.68" width="27.13" height="20.14" fill="#de767e" />
<rect x="131.98" y="454.68" width="27.13" height="20.14" fill="#d54852" />
<rect x="51.5" y="474.52" width="27.13" height="20.14" fill="#fcf3f4" />
<rect x="78.33" y="474.52" width="27.13" height="20.14" fill="#edbec2" />
<rect x="105.15" y="474.52" width="27.13" height="20.14" fill="#e49da2" />
<rect x="131.98" y="474.52" width="27.13" height="20.14" fill="#de777f" />
<rect x="51.5" y="494.36" width="27.13" height="20.14" fill="#ffffff" />
<rect x="78.33" y="494.36" width="27.13" height="20.14" fill="#f6dee1" />
<rect x="105.15" y="494.36" width="27.13" height="20.14" fill="#eebfc3" />
<rect x="131.98" y="494.36" width="27.13" height="20.14" fill="#e59da3" />
<text x="64.91" y="423.62" font-size="6.55" text-anchor="middle" fill="#ffffff" stroke="#ffffff" stroke-width="0.08"  fill-opacity="0.9">73.67</text>
<text x="64.91" y="430.42" font-size="6.55" text-anchor="middle" fill="#ffffff" stroke="#ffffff" stroke-width="0.08"  fill-opacity="0.9"><tspan fill-opacity="0.8" stroke-width="0.05">±</tspan><tspan dx="1.9" letter-spacing="0">5.48</tspan></text>
<text x="91.74" y="423.62" font-size="6.55" text-anchor="middle" fill="#ffffff" stroke="#ffffff" stroke-width="0.08"  fill-opacity="0.9">83.85</text>
<text x="91.74" y="430.42" font-size="6.55" text-anchor="middle" fill="#ffffff" stroke="#ffffff" stroke-width="0.08"  fill-opacity="0.9"><tspan fill-opacity="0.8" stroke-width="0.05">±</tspan><tspan dx="1.9" letter-spacing="0">4.12</tspan></text>
<text x="118.56" y="423.62" font-size="6.55" text-anchor="middle" fill="#ffffff" stroke="#ffffff" stroke-width="0.08"  fill-opacity="0.9">91.72</text>
<text x="118.56" y="430.42" font-size="6.55" text-anchor="middle" fill="#ffffff" stroke="#ffffff" stroke-width="0.08"  fill-opacity="0.9"><tspan fill-opacity="0.8" stroke-width="0.05">±</tspan><tspan dx="1.9" letter-spacing="0">1.11</tspan></text>
<text x="145.39" y="423.62" font-size="6.55" text-anchor="middle" fill="#ffffff" stroke="#ffffff" stroke-width="0.08"  fill-opacity="0.9">95.38</text>
<text x="145.39" y="430.42" font-size="6.55" text-anchor="middle" fill="#ffffff" stroke="#ffffff" stroke-width="0.08"  fill-opacity="0.9"><tspan fill-opacity="0.8" stroke-width="0.05">±</tspan><tspan dx="1.9" letter-spacing="0">0.55</tspan></text>
<text x="64.91" y="443.46" font-size="6.55" text-anchor="middle" fill="#333333" stroke="#333333" stroke-width="0.26" >27.85</text>
<text x="64.91" y="450.26" font-size="6.55" text-anchor="middle" fill="#333333" stroke="#333333" stroke-width="0.26" ><tspan fill-opacity="0.8" stroke-width="0.05">±</tspan><tspan dx="1.9" letter-spacing="0">2.63</tspan></text>
<text x="91.74" y="443.46" font-size="6.55" text-anchor="middle" fill="#ffffff" stroke="#ffffff" stroke-width="0.08"  fill-opacity="0.9">49.42</text>
<text x="91.74" y="450.26" font-size="6.55" text-anchor="middle" fill="#ffffff" stroke="#ffffff" stroke-width="0.08"  fill-opacity="0.9"><tspan fill-opacity="0.8" stroke-width="0.05">±</tspan><tspan dx="1.9" letter-spacing="0">2.2</tspan></text>
<text x="118.56" y="443.46" font-size="6.55" text-anchor="middle" fill="#ffffff" stroke="#ffffff" stroke-width="0.08"  fill-opacity="0.9">69.72</text>
<text x="118.56" y="450.26" font-size="6.55" text-anchor="middle" fill="#ffffff" stroke="#ffffff" stroke-width="0.08"  fill-opacity="0.9"><tspan fill-opacity="0.8" stroke-width="0.05">±</tspan><tspan dx="1.9" letter-spacing="0">2.14</tspan></text>
<text x="145.39" y="443.46" font-size="6.55" text-anchor="middle" fill="#ffffff" stroke="#ffffff" stroke-width="0.08"  fill-opacity="0.9">83.4</text>
<text x="145.39" y="450.26" font-size="6.55" text-anchor="middle" fill="#ffffff" stroke="#ffffff" stroke-width="0.08"  fill-opacity="0.9"><tspan fill-opacity="0.8" stroke-width="0.05">±</tspan><tspan dx="1.9" letter-spacing="0">1.16</tspan></text>
<text x="64.91" y="463.3" font-size="6.55" text-anchor="middle" fill="#333333" stroke="#333333" stroke-width="0.26" >14.05</text>
<text x="64.91" y="470.1" font-size="6.55" text-anchor="middle" fill="#333333" stroke="#333333" stroke-width="0.26" ><tspan fill-opacity="0.8" stroke-width="0.05">±</tspan><tspan dx="1.9" letter-spacing="0">4.12</tspan></text>
<text x="91.74" y="463.3" font-size="6.55" text-anchor="middle" fill="#333333" stroke="#333333" stroke-width="0.26" >36.27</text>
<text x="91.74" y="470.1" font-size="6.55" text-anchor="middle" fill="#333333" stroke="#333333" stroke-width="0.26" ><tspan fill-opacity="0.8" stroke-width="0.05">±</tspan><tspan dx="1.9" letter-spacing="0">4.55</tspan></text>
<text x="118.56" y="463.3" font-size="6.55" text-anchor="middle" fill="#ffffff" stroke="#ffffff" stroke-width="0.08"  fill-opacity="0.9">56.28</text>
<text x="118.56" y="470.1" font-size="6.55" text-anchor="middle" fill="#ffffff" stroke="#ffffff" stroke-width="0.08"  fill-opacity="0.9"><tspan fill-opacity="0.8" stroke-width="0.05">±</tspan><tspan dx="1.9" letter-spacing="0">3.1</tspan></text>
<text x="145.39" y="463.3" font-size="6.55" text-anchor="middle" fill="#ffffff" stroke="#ffffff" stroke-width="0.08"  fill-opacity="0.9">70.6</text>
<text x="145.39" y="470.1" font-size="6.55" text-anchor="middle" fill="#ffffff" stroke="#ffffff" stroke-width="0.08"  fill-opacity="0.9"><tspan fill-opacity="0.8" stroke-width="0.05">±</tspan><tspan dx="1.9" letter-spacing="0">2.82</tspan></text>
<text x="64.91" y="483.14" font-size="6.55" text-anchor="middle" fill="#333333" stroke="#333333" stroke-width="0.26" >5.57</text>
<text x="64.91" y="489.94" font-size="6.55" text-anchor="middle" fill="#333333" stroke="#333333" stroke-width="0.26" ><tspan fill-opacity="0.8" stroke-width="0.05">±</tspan><tspan dx="1.9" letter-spacing="0">1.15</tspan></text>
<text x="91.74" y="483.14" font-size="6.55" text-anchor="middle" fill="#333333" stroke="#333333" stroke-width="0.26" >29.05</text>
<text x="91.74" y="489.94" font-size="6.55" text-anchor="middle" fill="#333333" stroke="#333333" stroke-width="0.26" ><tspan fill-opacity="0.8" stroke-width="0.05">±</tspan><tspan dx="1.9" letter-spacing="0">7.13</tspan></text>
<text x="118.56" y="483.14" font-size="6.55" text-anchor="middle" fill="#ffffff" stroke="#ffffff" stroke-width="0.08"  fill-opacity="0.9">42.3</text>
<text x="118.56" y="489.94" font-size="6.55" text-anchor="middle" fill="#ffffff" stroke="#ffffff" stroke-width="0.08"  fill-opacity="0.9"><tspan fill-opacity="0.8" stroke-width="0.05">±</tspan><tspan dx="1.9" letter-spacing="0">5.04</tspan></text>
<text x="145.39" y="483.14" font-size="6.55" text-anchor="middle" fill="#ffffff" stroke="#ffffff" stroke-width="0.08"  fill-opacity="0.9">56.02</text>
<text x="145.39" y="489.94" font-size="6.55" text-anchor="middle" fill="#ffffff" stroke="#ffffff" stroke-width="0.08"  fill-opacity="0.9"><tspan fill-opacity="0.8" stroke-width="0.05">±</tspan><tspan dx="1.9" letter-spacing="0">2.73</tspan></text>
<text x="64.91" y="502.98" font-size="6.55" text-anchor="middle" fill="#333333" stroke="#333333" stroke-width="0.26" >0</text>
<text x="64.91" y="509.78" font-size="6.55" text-anchor="middle" fill="#333333" stroke="#333333" stroke-width="0.26" ><tspan fill-opacity="0.8" stroke-width="0.05">±</tspan><tspan dx="1.9" letter-spacing="0">0</tspan></text>
<text x="91.74" y="502.98" font-size="6.55" text-anchor="middle" fill="#333333" stroke="#333333" stroke-width="0.26" >14.73</text>
<text x="91.74" y="509.78" font-size="6.55" text-anchor="middle" fill="#333333" stroke="#333333" stroke-width="0.26" ><tspan fill-opacity="0.8" stroke-width="0.05">±</tspan><tspan dx="1.9" letter-spacing="0">6.32</tspan></text>
<text x="118.56" y="502.98" font-size="6.55" text-anchor="middle" fill="#333333" stroke="#333333" stroke-width="0.26" >28.85</text>
<text x="118.56" y="509.78" font-size="6.55" text-anchor="middle" fill="#333333" stroke="#333333" stroke-width="0.26" ><tspan fill-opacity="0.8" stroke-width="0.05">±</tspan><tspan dx="1.9" letter-spacing="0">7.32</tspan></text>
<text x="145.39" y="502.98" font-size="6.55" text-anchor="middle" fill="#ffffff" stroke="#ffffff" stroke-width="0.08"  fill-opacity="0.9">42.15</text>
<text x="145.39" y="509.78" font-size="6.55" text-anchor="middle" fill="#ffffff" stroke="#ffffff" stroke-width="0.08"  fill-opacity="0.9"><tspan fill-opacity="0.8" stroke-width="0.05">±</tspan><tspan dx="1.9" letter-spacing="0">4.33</tspan></text>
<line x1="51.5" y1="415" x2="51.5" y2="514.8" stroke="#000" stroke-width="1.15" />
<line x1="50.9" y1="514.2" x2="158.8" y2="514.2" stroke="#000" stroke-width="1.15" />
<line x1="45" y1="424.92" x2="48" y2="424.92" stroke="#111" stroke-width="1" />
<text x="41.9" y="427.32" font-size="6.7" text-anchor="end" stroke="#2b2b2b" stroke-width="0.22" >2</text>
<line x1="45" y1="444.76" x2="48" y2="444.76" stroke="#111" stroke-width="1" />
<text x="41.9" y="447.16" font-size="6.7" text-anchor="end" stroke="#2b2b2b" stroke-width="0.22" >1</text>
<line x1="45" y1="464.6" x2="48" y2="464.6" stroke="#111" stroke-width="1" />
<text x="41.9" y="467" font-size="6.7" text-anchor="end" stroke="#2b2b2b" stroke-width="0.22" >0.5</text>
<line x1="45" y1="484.44" x2="48" y2="484.44" stroke="#111" stroke-width="1" />
<text x="41.9" y="486.84" font-size="6.7" text-anchor="end" stroke="#2b2b2b" stroke-width="0.22" >0.25</text>
<line x1="45" y1="504.28" x2="48" y2="504.28" stroke="#111" stroke-width="1" />
<text x="41.9" y="506.68" font-size="6.7" text-anchor="end" stroke="#2b2b2b" stroke-width="0.22" >0</text>
<line x1="64.91" y1="514.2" x2="64.91" y2="517.4" stroke="#111" stroke-width="1" />
<text x="64.91" y="526.8" font-size="6.5" text-anchor="middle" stroke="#2b2b2b" stroke-width="0.22" >0</text>
<line x1="91.74" y1="514.2" x2="91.74" y2="517.4" stroke="#111" stroke-width="1" />
<text x="91.74" y="526.8" font-size="6.5" text-anchor="middle" stroke="#2b2b2b" stroke-width="0.22" >100</text>
<line x1="118.56" y1="514.2" x2="118.56" y2="517.4" stroke="#111" stroke-width="1" />
<text x="118.56" y="526.8" font-size="6.5" text-anchor="middle" stroke="#2b2b2b" stroke-width="0.22" >200</text>
<line x1="145.39" y1="514.2" x2="145.39" y2="517.4" stroke="#111" stroke-width="1" />
<text x="145.39" y="526.8" font-size="6.5" text-anchor="middle" stroke="#2b2b2b" stroke-width="0.22" >300</text>
<text x="105.15" y="410.9" font-size="6.5" text-anchor="middle" stroke="#2b2b2b" stroke-width="0.22" >Mac-2A</text>
<text x="105.15" y="538.5" font-size="7.5" text-anchor="middle" textLength="38.5" lengthAdjust="spacingAndGlyphs" stroke="#2b2b2b" stroke-width="0.3" >LNS-8801 [nM]</text>
<text transform="translate(22.6,464.6) rotate(-90)" font-size="6.6" text-anchor="middle" textLength="71.3" lengthAdjust="spacingAndGlyphs" stroke="#2b2b2b" stroke-width="0.25" >Brentuximab vedotin [ng/ml]</text>
<rect x="210.4" y="415" width="27.07" height="20.14" fill="#d64e58" />
<rect x="237.18" y="415" width="27.07" height="20.14" fill="#d0303a" />
<rect x="263.95" y="415" width="27.07" height="20.14" fill="#d02833" />
<rect x="290.73" y="415" width="27.07" height="20.14" fill="#d0212d" />
<rect x="210.4" y="434.84" width="27.07" height="20.14" fill="#efc3c7" />
<rect x="237.18" y="434.84" width="27.07" height="20.14" fill="#e1878e" />
<rect x="263.95" y="434.84" width="27.07" height="20.14" fill="#d95f69" />
<rect x="290.73" y="434.84" width="27.07" height="20.14" fill="#d1353f" />
<rect x="210.4" y="454.68" width="27.07" height="20.14" fill="#fcf3f4" />
<rect x="237.18" y="454.68" width="27.07" height="20.14" fill="#f0c9cd" />
<rect x="263.95" y="454.68" width="27.07" height="20.14" fill="#e49ca2" />
<rect x="290.73" y="454.68" width="27.07" height="20.14" fill="#dc6f77" />
<rect x="210.4" y="474.52" width="27.07" height="20.14" fill="#fefefd" />
<rect x="237.18" y="474.52" width="27.07" height="20.14" fill="#f8e6e8" />
<rect x="263.95" y="474.52" width="27.07" height="20.14" fill="#efc5c9" />
<rect x="290.73" y="474.52" width="27.07" height="20.14" fill="#e39198" />
<rect x="210.4" y="494.36" width="27.07" height="20.14" fill="#ffffff" />
<rect x="237.18" y="494.36" width="27.07" height="20.14" fill="#fdf8f9" />
<rect x="263.95" y="494.36" width="27.07" height="20.14" fill="#f7e1e3" />
<rect x="290.73" y="494.36" width="27.07" height="20.14" fill="#eec2c6" />
<text x="223.79" y="423.62" font-size="6.55" text-anchor="middle" fill="#ffffff" stroke="#ffffff" stroke-width="0.08"  fill-opacity="0.9">60.33</text>
<text x="223.79" y="430.42" font-size="6.55" text-anchor="middle" fill="#ffffff" stroke="#ffffff" stroke-width="0.08"  fill-opacity="0.9"><tspan fill-opacity="0.8" stroke-width="0.05">±</tspan><tspan dx="1.9" letter-spacing="0">2.19</tspan></text>
<text x="250.56" y="423.62" font-size="6.55" text-anchor="middle" fill="#ffffff" stroke="#ffffff" stroke-width="0.08"  fill-opacity="0.9">72.53</text>
<text x="250.56" y="430.42" font-size="6.55" text-anchor="middle" fill="#ffffff" stroke="#ffffff" stroke-width="0.08"  fill-opacity="0.9"><tspan fill-opacity="0.8" stroke-width="0.05">±</tspan><tspan dx="1.9" letter-spacing="0">2.13</tspan></text>
<text x="277.34" y="423.62" font-size="6.55" text-anchor="middle" fill="#ffffff" stroke="#ffffff" stroke-width="0.08"  fill-opacity="0.9">78.33</text>
<text x="277.34" y="430.42" font-size="6.55" text-anchor="middle" fill="#ffffff" stroke="#ffffff" stroke-width="0.08"  fill-opacity="0.9"><tspan fill-opacity="0.8" stroke-width="0.05">±</tspan><tspan dx="1.9" letter-spacing="0">2.06</tspan></text>
<text x="304.11" y="423.62" font-size="6.55" text-anchor="middle" fill="#ffffff" stroke="#ffffff" stroke-width="0.08"  fill-opacity="0.9">83.83</text>
<text x="304.11" y="430.42" font-size="6.55" text-anchor="middle" fill="#ffffff" stroke="#ffffff" stroke-width="0.08"  fill-opacity="0.9"><tspan fill-opacity="0.8" stroke-width="0.05">±</tspan><tspan dx="1.9" letter-spacing="0">0.9</tspan></text>
<text x="223.79" y="443.46" font-size="6.55" text-anchor="middle" fill="#333333" stroke="#333333" stroke-width="0.26" >23.68</text>
<text x="223.79" y="450.26" font-size="6.55" text-anchor="middle" fill="#333333" stroke="#333333" stroke-width="0.26" ><tspan fill-opacity="0.8" stroke-width="0.05">±</tspan><tspan dx="1.9" letter-spacing="0">0.79</tspan></text>
<text x="250.56" y="443.46" font-size="6.55" text-anchor="middle" fill="#ffffff" stroke="#ffffff" stroke-width="0.08"  fill-opacity="0.9">43.4</text>
<text x="250.56" y="450.26" font-size="6.55" text-anchor="middle" fill="#ffffff" stroke="#ffffff" stroke-width="0.08"  fill-opacity="0.9"><tspan fill-opacity="0.8" stroke-width="0.05">±</tspan><tspan dx="1.9" letter-spacing="0">4.14</tspan></text>
<text x="277.34" y="443.46" font-size="6.55" text-anchor="middle" fill="#ffffff" stroke="#ffffff" stroke-width="0.08"  fill-opacity="0.9">56.6</text>
<text x="277.34" y="450.26" font-size="6.55" text-anchor="middle" fill="#ffffff" stroke="#ffffff" stroke-width="0.08"  fill-opacity="0.9"><tspan fill-opacity="0.8" stroke-width="0.05">±</tspan><tspan dx="1.9" letter-spacing="0">2.45</tspan></text>
<text x="304.11" y="443.46" font-size="6.55" text-anchor="middle" fill="#ffffff" stroke="#ffffff" stroke-width="0.08"  fill-opacity="0.9">70.08</text>
<text x="304.11" y="450.26" font-size="6.55" text-anchor="middle" fill="#ffffff" stroke="#ffffff" stroke-width="0.08"  fill-opacity="0.9"><tspan fill-opacity="0.8" stroke-width="0.05">±</tspan><tspan dx="1.9" letter-spacing="0">3.44</tspan></text>
<text x="223.79" y="463.3" font-size="6.55" text-anchor="middle" fill="#333333" stroke="#333333" stroke-width="0.26" >4.63</text>
<text x="223.79" y="470.1" font-size="6.55" text-anchor="middle" fill="#333333" stroke="#333333" stroke-width="0.26" ><tspan fill-opacity="0.8" stroke-width="0.05">±</tspan><tspan dx="1.9" letter-spacing="0">1.43</tspan></text>
<text x="250.56" y="463.3" font-size="6.55" text-anchor="middle" fill="#333333" stroke="#333333" stroke-width="0.26" >21.55</text>
<text x="250.56" y="470.1" font-size="6.55" text-anchor="middle" fill="#333333" stroke="#333333" stroke-width="0.26" ><tspan fill-opacity="0.8" stroke-width="0.05">±</tspan><tspan dx="1.9" letter-spacing="0">7.47</tspan></text>
<text x="277.34" y="463.3" font-size="6.55" text-anchor="middle" fill="#ffffff" stroke="#ffffff" stroke-width="0.08"  fill-opacity="0.9">37.5</text>
<text x="277.34" y="470.1" font-size="6.55" text-anchor="middle" fill="#ffffff" stroke="#ffffff" stroke-width="0.08"  fill-opacity="0.9"><tspan fill-opacity="0.8" stroke-width="0.05">±</tspan><tspan dx="1.9" letter-spacing="0">8.54</tspan></text>
<text x="304.11" y="463.3" font-size="6.55" text-anchor="middle" fill="#ffffff" stroke="#ffffff" stroke-width="0.08"  fill-opacity="0.9">51.83</text>
<text x="304.11" y="470.1" font-size="6.55" text-anchor="middle" fill="#ffffff" stroke="#ffffff" stroke-width="0.08"  fill-opacity="0.9"><tspan fill-opacity="0.8" stroke-width="0.05">±</tspan><tspan dx="1.9" letter-spacing="0">4.75</tspan></text>
<text x="223.79" y="483.14" font-size="6.55" text-anchor="middle" fill="#333333" stroke="#333333" stroke-width="0.26" >−0.68</text>
<text x="223.79" y="489.94" font-size="6.55" text-anchor="middle" fill="#333333" stroke="#333333" stroke-width="0.26" ><tspan fill-opacity="0.8" stroke-width="0.05">±</tspan><tspan dx="1.9" letter-spacing="0">2.28</tspan></text>
<text x="250.56" y="483.14" font-size="6.55" text-anchor="middle" fill="#333333" stroke="#333333" stroke-width="0.26" >9.93</text>
<text x="250.56" y="489.94" font-size="6.55" text-anchor="middle" fill="#333333" stroke="#333333" stroke-width="0.26" ><tspan fill-opacity="0.8" stroke-width="0.05">±</tspan><tspan dx="1.9" letter-spacing="0">4.9</tspan></text>
<text x="277.34" y="483.14" font-size="6.55" text-anchor="middle" fill="#333333" stroke="#333333" stroke-width="0.26" >22.92</text>
<text x="277.34" y="489.94" font-size="6.55" text-anchor="middle" fill="#333333" stroke="#333333" stroke-width="0.26" ><tspan fill-opacity="0.8" stroke-width="0.05">±</tspan><tspan dx="1.9" letter-spacing="0">5.76</tspan></text>
<text x="304.11" y="483.14" font-size="6.55" text-anchor="middle" fill="#ffffff" stroke="#ffffff" stroke-width="0.08"  fill-opacity="0.9">40.42</text>
<text x="304.11" y="489.94" font-size="6.55" text-anchor="middle" fill="#ffffff" stroke="#ffffff" stroke-width="0.08"  fill-opacity="0.9"><tspan fill-opacity="0.8" stroke-width="0.05">±</tspan><tspan dx="1.9" letter-spacing="0">10.05</tspan></text>
<text x="223.79" y="502.98" font-size="6.55" text-anchor="middle" fill="#333333" stroke="#333333" stroke-width="0.26" >0</text>
<text x="223.79" y="509.78" font-size="6.55" text-anchor="middle" fill="#333333" stroke="#333333" stroke-width="0.26" ><tspan fill-opacity="0.8" stroke-width="0.05">±</tspan><tspan dx="1.9" letter-spacing="0">0</tspan></text>
<text x="250.56" y="502.98" font-size="6.55" text-anchor="middle" fill="#333333" stroke="#333333" stroke-width="0.26" >2.75</text>
<text x="250.56" y="509.78" font-size="6.55" text-anchor="middle" fill="#333333" stroke="#333333" stroke-width="0.26" ><tspan fill-opacity="0.8" stroke-width="0.05">±</tspan><tspan dx="1.9" letter-spacing="0">2.28</tspan></text>
<text x="277.34" y="502.98" font-size="6.55" text-anchor="middle" fill="#333333" stroke="#333333" stroke-width="0.26" >11.8</text>
<text x="277.34" y="509.78" font-size="6.55" text-anchor="middle" fill="#333333" stroke="#333333" stroke-width="0.26" ><tspan fill-opacity="0.8" stroke-width="0.05">±</tspan><tspan dx="1.9" letter-spacing="0">1.79</tspan></text>
<text x="304.11" y="502.98" font-size="6.55" text-anchor="middle" fill="#333333" stroke="#333333" stroke-width="0.26" >24.15</text>
<text x="304.11" y="509.78" font-size="6.55" text-anchor="middle" fill="#333333" stroke="#333333" stroke-width="0.26" ><tspan fill-opacity="0.8" stroke-width="0.05">±</tspan><tspan dx="1.9" letter-spacing="0">5.85</tspan></text>
<line x1="210.4" y1="415" x2="210.4" y2="514.8" stroke="#000" stroke-width="1.15" />
<line x1="209.8" y1="514.2" x2="317.5" y2="514.2" stroke="#000" stroke-width="1.15" />
<line x1="206.9" y1="424.92" x2="209.9" y2="424.92" stroke="#111" stroke-width="1" />
<text x="204" y="427.32" font-size="6.7" text-anchor="end" stroke="#2b2b2b" stroke-width="0.22" >2</text>
<line x1="206.9" y1="444.76" x2="209.9" y2="444.76" stroke="#111" stroke-width="1" />
<text x="204" y="447.16" font-size="6.7" text-anchor="end" stroke="#2b2b2b" stroke-width="0.22" >1</text>
<line x1="206.9" y1="464.6" x2="209.9" y2="464.6" stroke="#111" stroke-width="1" />
<text x="204" y="467" font-size="6.7" text-anchor="end" stroke="#2b2b2b" stroke-width="0.22" >0.5</text>
<line x1="206.9" y1="484.44" x2="209.9" y2="484.44" stroke="#111" stroke-width="1" />
<text x="204" y="486.84" font-size="6.7" text-anchor="end" stroke="#2b2b2b" stroke-width="0.22" >0.25</text>
<line x1="206.9" y1="504.28" x2="209.9" y2="504.28" stroke="#111" stroke-width="1" />
<text x="204" y="506.68" font-size="6.7" text-anchor="end" stroke="#2b2b2b" stroke-width="0.22" >0</text>
<line x1="223.79" y1="514.2" x2="223.79" y2="517.4" stroke="#111" stroke-width="1" />
<text x="223.79" y="527.3" font-size="6.5" text-anchor="middle" stroke="#2b2b2b" stroke-width="0.22" >0</text>
<line x1="250.56" y1="514.2" x2="250.56" y2="517.4" stroke="#111" stroke-width="1" />
<text x="250.56" y="527.3" font-size="6.5" text-anchor="middle" stroke="#2b2b2b" stroke-width="0.22" >100</text>
<line x1="277.34" y1="514.2" x2="277.34" y2="517.4" stroke="#111" stroke-width="1" />
<text x="277.34" y="527.3" font-size="6.5" text-anchor="middle" stroke="#2b2b2b" stroke-width="0.22" >200</text>
<line x1="304.11" y1="514.2" x2="304.11" y2="517.4" stroke="#111" stroke-width="1" />
<text x="304.11" y="527.3" font-size="6.5" text-anchor="middle" stroke="#2b2b2b" stroke-width="0.22" >300</text>
<text x="263.95" y="410.9" font-size="6.5" text-anchor="middle" stroke="#2b2b2b" stroke-width="0.22" >JB6</text>
<text x="263.95" y="538.8" font-size="7.5" text-anchor="middle" textLength="39.3" lengthAdjust="spacingAndGlyphs" stroke="#2b2b2b" stroke-width="0.3" >LNS-8801 [nM]</text>
<text transform="translate(185.1,464.6) rotate(-90)" font-size="6.6" text-anchor="middle" textLength="70.5" lengthAdjust="spacingAndGlyphs" stroke="#2b2b2b" stroke-width="0.25" >Brentuximab vedotin [ng/ml]</text>
<rect x="51.5" y="575.2" width="21.92" height="20.26" fill="#f2a9ae" />
<rect x="73.12" y="575.2" width="21.92" height="20.26" fill="#ed7c82" />
<rect x="94.74" y="575.2" width="21.92" height="20.26" fill="#ec5e66" />
<rect x="116.36" y="575.2" width="21.92" height="20.26" fill="#e82f39" />
<rect x="137.98" y="575.2" width="21.92" height="20.26" fill="#e3151e" />
<rect x="51.5" y="595.16" width="21.92" height="20.26" fill="#f7d2d4" />
<rect x="73.12" y="595.16" width="21.92" height="20.26" fill="#f2aaaf" />
<rect x="94.74" y="595.16" width="21.92" height="20.26" fill="#ee8e94" />
<rect x="116.36" y="595.16" width="21.92" height="20.26" fill="#eb4651" />
<rect x="137.98" y="595.16" width="21.92" height="20.26" fill="#e5222b" />
<rect x="51.5" y="615.12" width="21.92" height="20.26" fill="#fae2e4" />
<rect x="73.12" y="615.12" width="21.92" height="20.26" fill="#f6c9cc" />
<rect x="94.74" y="615.12" width="21.92" height="20.26" fill="#f3b2b7" />
<rect x="116.36" y="615.12" width="21.92" height="20.26" fill="#ed7077" />
<rect x="137.98" y="615.12" width="21.92" height="20.26" fill="#e9353f" />
<rect x="51.5" y="635.08" width="21.92" height="20.26" fill="#fcf0f1" />
<rect x="73.12" y="635.08" width="21.92" height="20.26" fill="#f9dcdd" />
<rect x="94.74" y="635.08" width="21.92" height="20.26" fill="#f6c8cb" />
<rect x="116.36" y="635.08" width="21.92" height="20.26" fill="#ee898f" />
<rect x="137.98" y="635.08" width="21.92" height="20.26" fill="#ea404b" />
<rect x="51.5" y="655.04" width="21.92" height="20.26" fill="#ffffff" />
<rect x="73.12" y="655.04" width="21.92" height="20.26" fill="#fceeee" />
<rect x="94.74" y="655.04" width="21.92" height="20.26" fill="#fae1e3" />
<rect x="116.36" y="655.04" width="21.92" height="20.26" fill="#f3b0b4" />
<rect x="137.98" y="655.04" width="21.92" height="20.26" fill="#ec656d" />
<text x="62.31" y="583.88" font-size="6.55" text-anchor="middle" fill="#333333" stroke="#333333" stroke-width="0.26" >35.9</text>
<text x="62.31" y="590.68" font-size="6.55" text-anchor="middle" fill="#333333" stroke="#333333" stroke-width="0.26" ><tspan fill-opacity="0.8" stroke-width="0.05">±</tspan><tspan dx="2.4" letter-spacing="0.35">4.65</tspan></text>
<text x="83.93" y="583.88" font-size="6.55" text-anchor="middle" fill="#ffffff" stroke="#ffffff" stroke-width="0.08"  fill-opacity="0.9">50.4</text>
<text x="83.93" y="590.68" font-size="6.55" text-anchor="middle" fill="#ffffff" stroke="#ffffff" stroke-width="0.08"  fill-opacity="0.9"><tspan fill-opacity="0.8" stroke-width="0.05">±</tspan><tspan dx="2.4" letter-spacing="0.35">4.12</tspan></text>
<text x="105.55" y="583.88" font-size="6.55" text-anchor="middle" fill="#ffffff" stroke="#ffffff" stroke-width="0.08"  fill-opacity="0.9">60.05</text>
<text x="105.55" y="590.68" font-size="6.55" text-anchor="middle" fill="#ffffff" stroke="#ffffff" stroke-width="0.08"  fill-opacity="0.9"><tspan fill-opacity="0.8" stroke-width="0.05">±</tspan><tspan dx="2.4" letter-spacing="0.35">3.09</tspan></text>
<text x="127.17" y="583.88" font-size="6.55" text-anchor="middle" fill="#ffffff" stroke="#ffffff" stroke-width="0.08"  fill-opacity="0.9">77.47</text>
<text x="127.17" y="590.68" font-size="6.55" text-anchor="middle" fill="#ffffff" stroke="#ffffff" stroke-width="0.08"  fill-opacity="0.9"><tspan fill-opacity="0.8" stroke-width="0.05">±</tspan><tspan dx="2.4" letter-spacing="0.35">1.58</tspan></text>
<text x="148.79" y="583.88" font-size="6.55" text-anchor="middle" fill="#ffffff" stroke="#ffffff" stroke-width="0.08"  fill-opacity="0.9">88.4</text>
<text x="148.79" y="590.68" font-size="6.55" text-anchor="middle" fill="#ffffff" stroke="#ffffff" stroke-width="0.08"  fill-opacity="0.9"><tspan fill-opacity="0.8" stroke-width="0.05">±</tspan><tspan dx="2.4" letter-spacing="0.35">0.68</tspan></text>
<text x="62.31" y="603.84" font-size="6.55" text-anchor="middle" fill="#333333" stroke="#333333" stroke-width="0.26" >19.35</text>
<text x="62.31" y="610.64" font-size="6.55" text-anchor="middle" fill="#333333" stroke="#333333" stroke-width="0.26" ><tspan fill-opacity="0.8" stroke-width="0.05">±</tspan><tspan dx="2.4" letter-spacing="0.35">3.65</tspan></text>
<text x="83.93" y="603.84" font-size="6.55" text-anchor="middle" fill="#333333" stroke="#333333" stroke-width="0.26" >35.62</text>
<text x="83.93" y="610.64" font-size="6.55" text-anchor="middle" fill="#333333" stroke="#333333" stroke-width="0.26" ><tspan fill-opacity="0.8" stroke-width="0.05">±</tspan><tspan dx="2.4" letter-spacing="0.35">3.02</tspan></text>
<text x="105.55" y="603.84" font-size="6.55" text-anchor="middle" fill="#ffffff" stroke="#ffffff" stroke-width="0.08"  fill-opacity="0.9">44.59</text>
<text x="105.55" y="610.64" font-size="6.55" text-anchor="middle" fill="#ffffff" stroke="#ffffff" stroke-width="0.08"  fill-opacity="0.9"><tspan fill-opacity="0.8" stroke-width="0.05">±</tspan><tspan dx="2.4" letter-spacing="0.35">2.79</tspan></text>
<text x="127.17" y="603.84" font-size="6.55" text-anchor="middle" fill="#ffffff" stroke="#ffffff" stroke-width="0.08"  fill-opacity="0.9">67.28</text>
<text x="127.17" y="610.64" font-size="6.55" text-anchor="middle" fill="#ffffff" stroke="#ffffff" stroke-width="0.08"  fill-opacity="0.9"><tspan fill-opacity="0.8" stroke-width="0.05">±</tspan><tspan dx="2.4" letter-spacing="0.35">0.94</tspan></text>
<text x="148.79" y="603.84" font-size="6.55" text-anchor="middle" fill="#ffffff" stroke="#ffffff" stroke-width="0.08"  fill-opacity="0.9">83</text>
<text x="148.79" y="610.64" font-size="6.55" text-anchor="middle" fill="#ffffff" stroke="#ffffff" stroke-width="0.08"  fill-opacity="0.9"><tspan fill-opacity="0.8" stroke-width="0.05">±</tspan><tspan dx="2.4" letter-spacing="0.35">0.47</tspan></text>
<text x="62.31" y="623.8" font-size="6.55" text-anchor="middle" fill="#333333" stroke="#333333" stroke-width="0.26" >12.27</text>
<text x="62.31" y="630.6" font-size="6.55" text-anchor="middle" fill="#333333" stroke="#333333" stroke-width="0.26" ><tspan fill-opacity="0.8" stroke-width="0.05">±</tspan><tspan dx="2.4" letter-spacing="0.35">4.73</tspan></text>
<text x="83.93" y="623.8" font-size="6.55" text-anchor="middle" fill="#333333" stroke="#333333" stroke-width="0.26" >22.95</text>
<text x="83.93" y="630.6" font-size="6.55" text-anchor="middle" fill="#333333" stroke="#333333" stroke-width="0.26" ><tspan fill-opacity="0.8" stroke-width="0.05">±</tspan><tspan dx="2.4" letter-spacing="0.35">2.34</tspan></text>
<text x="105.55" y="623.8" font-size="6.55" text-anchor="middle" fill="#333333" stroke="#333333" stroke-width="0.26" >32.2</text>
<text x="105.55" y="630.6" font-size="6.55" text-anchor="middle" fill="#333333" stroke="#333333" stroke-width="0.26" ><tspan fill-opacity="0.8" stroke-width="0.05">±</tspan><tspan dx="2.4" letter-spacing="0.35">2.43</tspan></text>
<text x="127.17" y="623.8" font-size="6.55" text-anchor="middle" fill="#ffffff" stroke="#ffffff" stroke-width="0.08"  fill-opacity="0.9">54.3</text>
<text x="127.17" y="630.6" font-size="6.55" text-anchor="middle" fill="#ffffff" stroke="#ffffff" stroke-width="0.08"  fill-opacity="0.9"><tspan fill-opacity="0.8" stroke-width="0.05">±</tspan><tspan dx="2.4" letter-spacing="0.35">0.91</tspan></text>
<text x="148.79" y="623.8" font-size="6.55" text-anchor="middle" fill="#ffffff" stroke="#ffffff" stroke-width="0.08"  fill-opacity="0.9">74.83</text>
<text x="148.79" y="630.6" font-size="6.55" text-anchor="middle" fill="#ffffff" stroke="#ffffff" stroke-width="0.08"  fill-opacity="0.9"><tspan fill-opacity="0.8" stroke-width="0.05">±</tspan><tspan dx="2.4" letter-spacing="0.35">1.59</tspan></text>
<text x="62.31" y="643.76" font-size="6.55" text-anchor="middle" fill="#333333" stroke="#333333" stroke-width="0.26" >6.32</text>
<text x="62.31" y="650.56" font-size="6.55" text-anchor="middle" fill="#333333" stroke="#333333" stroke-width="0.26" ><tspan fill-opacity="0.8" stroke-width="0.05">±</tspan><tspan dx="2.4" letter-spacing="0.35">3.27</tspan></text>
<text x="83.93" y="643.76" font-size="6.55" text-anchor="middle" fill="#333333" stroke="#333333" stroke-width="0.26" >15.1</text>
<text x="83.93" y="650.56" font-size="6.55" text-anchor="middle" fill="#333333" stroke="#333333" stroke-width="0.26" ><tspan fill-opacity="0.8" stroke-width="0.05">±</tspan><tspan dx="2.4" letter-spacing="0.35">1.54</tspan></text>
<text x="105.55" y="643.76" font-size="6.55" text-anchor="middle" fill="#333333" stroke="#333333" stroke-width="0.26" >23.28</text>
<text x="105.55" y="650.56" font-size="6.55" text-anchor="middle" fill="#333333" stroke="#333333" stroke-width="0.26" ><tspan fill-opacity="0.8" stroke-width="0.05">±</tspan><tspan dx="2.4" letter-spacing="0.35">2.28</tspan></text>
<text x="127.17" y="643.76" font-size="6.55" text-anchor="middle" fill="#ffffff" stroke="#ffffff" stroke-width="0.08"  fill-opacity="0.9">45.98</text>
<text x="127.17" y="650.56" font-size="6.55" text-anchor="middle" fill="#ffffff" stroke="#ffffff" stroke-width="0.08"  fill-opacity="0.9"><tspan fill-opacity="0.8" stroke-width="0.05">±</tspan><tspan dx="2.4" letter-spacing="0.35">3.06</tspan></text>
<text x="148.79" y="643.76" font-size="6.55" text-anchor="middle" fill="#ffffff" stroke="#ffffff" stroke-width="0.08"  fill-opacity="0.9">69.8</text>
<text x="148.79" y="650.56" font-size="6.55" text-anchor="middle" fill="#ffffff" stroke="#ffffff" stroke-width="0.08"  fill-opacity="0.9"><tspan fill-opacity="0.8" stroke-width="0.05">±</tspan><tspan dx="2.4" letter-spacing="0.35">1.44</tspan></text>
<text x="62.31" y="663.72" font-size="6.55" text-anchor="middle" fill="#333333" stroke="#333333" stroke-width="0.26" >0</text>
<text x="62.31" y="670.52" font-size="6.55" text-anchor="middle" fill="#333333" stroke="#333333" stroke-width="0.26" ><tspan fill-opacity="0.8" stroke-width="0.05">±</tspan><tspan dx="2.4" letter-spacing="0.35">0</tspan></text>
<text x="83.93" y="663.72" font-size="6.55" text-anchor="middle" fill="#333333" stroke="#333333" stroke-width="0.26" >7.43</text>
<text x="83.93" y="670.52" font-size="6.55" text-anchor="middle" fill="#333333" stroke="#333333" stroke-width="0.26" ><tspan fill-opacity="0.8" stroke-width="0.05">±</tspan><tspan dx="2.4" letter-spacing="0.35">2.92</tspan></text>
<text x="105.55" y="663.72" font-size="6.55" text-anchor="middle" fill="#333333" stroke="#333333" stroke-width="0.26" >12.67</text>
<text x="105.55" y="670.52" font-size="6.55" text-anchor="middle" fill="#333333" stroke="#333333" stroke-width="0.26" ><tspan fill-opacity="0.8" stroke-width="0.05">±</tspan><tspan dx="2.4" letter-spacing="0.35">3.53</tspan></text>
<text x="127.17" y="663.72" font-size="6.55" text-anchor="middle" fill="#333333" stroke="#333333" stroke-width="0.26" >33.23</text>
<text x="127.17" y="670.52" font-size="6.55" text-anchor="middle" fill="#333333" stroke="#333333" stroke-width="0.26" ><tspan fill-opacity="0.8" stroke-width="0.05">±</tspan><tspan dx="2.4" letter-spacing="0.35">2.38</tspan></text>
<text x="148.79" y="663.72" font-size="6.55" text-anchor="middle" fill="#ffffff" stroke="#ffffff" stroke-width="0.08"  fill-opacity="0.9">57.65</text>
<text x="148.79" y="670.52" font-size="6.55" text-anchor="middle" fill="#ffffff" stroke="#ffffff" stroke-width="0.08"  fill-opacity="0.9"><tspan fill-opacity="0.8" stroke-width="0.05">±</tspan><tspan dx="2.4" letter-spacing="0.35">2.14</tspan></text>
<line x1="51.5" y1="575.2" x2="51.5" y2="675.6" stroke="#000" stroke-width="1.15" />
<line x1="50.9" y1="675" x2="159.6" y2="675" stroke="#000" stroke-width="1.15" />
<line x1="45" y1="585.18" x2="48" y2="585.18" stroke="#111" stroke-width="1" />
<text x="41.9" y="587.58" font-size="6.7" text-anchor="end" stroke="#2b2b2b" stroke-width="0.22" >50</text>
<line x1="45" y1="605.14" x2="48" y2="605.14" stroke="#111" stroke-width="1" />
<text x="41.9" y="607.54" font-size="6.7" text-anchor="end" stroke="#2b2b2b" stroke-width="0.22" >25</text>
<line x1="45" y1="625.1" x2="48" y2="625.1" stroke="#111" stroke-width="1" />
<text x="41.9" y="627.5" font-size="6.7" text-anchor="end" stroke="#2b2b2b" stroke-width="0.22" >12.5</text>
<line x1="45" y1="645.06" x2="48" y2="645.06" stroke="#111" stroke-width="1" />
<text x="41.9" y="647.46" font-size="6.7" text-anchor="end" stroke="#2b2b2b" stroke-width="0.22" >6.25</text>
<line x1="45" y1="665.02" x2="48" y2="665.02" stroke="#111" stroke-width="1" />
<text x="41.9" y="667.42" font-size="6.7" text-anchor="end" stroke="#2b2b2b" stroke-width="0.22" >0</text>
<line x1="62.31" y1="675" x2="62.31" y2="678.2" stroke="#111" stroke-width="1" />
<text x="62.31" y="687" font-size="6.5" text-anchor="middle" stroke="#2b2b2b" stroke-width="0.22" >0</text>
<line x1="83.93" y1="675" x2="83.93" y2="678.2" stroke="#111" stroke-width="1" />
<text x="83.93" y="687" font-size="6.5" text-anchor="middle" stroke="#2b2b2b" stroke-width="0.22" >50</text>
<line x1="105.55" y1="675" x2="105.55" y2="678.2" stroke="#111" stroke-width="1" />
<text x="105.55" y="687" font-size="6.5" text-anchor="middle" stroke="#2b2b2b" stroke-width="0.22" >100</text>
<line x1="127.17" y1="675" x2="127.17" y2="678.2" stroke="#111" stroke-width="1" />
<text x="127.17" y="687" font-size="6.5" text-anchor="middle" stroke="#2b2b2b" stroke-width="0.22" >200</text>
<line x1="148.79" y1="675" x2="148.79" y2="678.2" stroke="#111" stroke-width="1" />
<text x="148.79" y="687" font-size="6.5" text-anchor="middle" stroke="#2b2b2b" stroke-width="0.22" >300</text>
<text x="105.55" y="571.3" font-size="6.5" text-anchor="middle" stroke="#2b2b2b" stroke-width="0.22" >OCI-Ly10</text>
<text x="105.55" y="698.8" font-size="7.5" text-anchor="middle" textLength="39" lengthAdjust="spacingAndGlyphs" stroke="#2b2b2b" stroke-width="0.3" >LNS-8801 [nM]</text>
<text transform="translate(23.1,625.1) rotate(-90)" font-size="6.6" text-anchor="middle" textLength="71.3" lengthAdjust="spacingAndGlyphs" stroke="#2b2b2b" stroke-width="0.25" >Polatuzumab vedotin [ng/ml]</text>
<rect x="210.4" y="575.2" width="21.94" height="20.26" fill="#eb4752" />
<rect x="232.04" y="575.2" width="21.94" height="20.26" fill="#e72b35" />
<rect x="253.68" y="575.2" width="21.94" height="20.26" fill="#e51e27" />
<rect x="275.32" y="575.2" width="21.94" height="20.26" fill="#e31720" />
<rect x="296.96" y="575.2" width="21.94" height="20.26" fill="#e3151e" />
<rect x="210.4" y="595.16" width="21.94" height="20.26" fill="#ee8d93" />
<rect x="232.04" y="595.16" width="21.94" height="20.26" fill="#eb4a55" />
<rect x="253.68" y="595.16" width="21.94" height="20.26" fill="#e8303a" />
<rect x="275.32" y="595.16" width="21.94" height="20.26" fill="#e5212a" />
<rect x="296.96" y="595.16" width="21.94" height="20.26" fill="#e41b24" />
<rect x="210.4" y="615.12" width="21.94" height="20.26" fill="#f5c5c8" />
<rect x="232.04" y="615.12" width="21.94" height="20.26" fill="#ee898f" />
<rect x="253.68" y="615.12" width="21.94" height="20.26" fill="#ec5a62" />
<rect x="275.32" y="615.12" width="21.94" height="20.26" fill="#e93c47" />
<rect x="296.96" y="615.12" width="21.94" height="20.26" fill="#e82e38" />
<rect x="210.4" y="635.08" width="21.94" height="20.26" fill="#fcedee" />
<rect x="232.04" y="635.08" width="21.94" height="20.26" fill="#f4bcc0" />
<rect x="253.68" y="635.08" width="21.94" height="20.26" fill="#f09aa0" />
<rect x="275.32" y="635.08" width="21.94" height="20.26" fill="#ed6e75" />
<rect x="296.96" y="635.08" width="21.94" height="20.26" fill="#eb4b56" />
<rect x="210.4" y="655.04" width="21.94" height="20.26" fill="#ffffff" />
<rect x="232.04" y="655.04" width="21.94" height="20.26" fill="#f9dee0" />
<rect x="253.68" y="655.04" width="21.94" height="20.26" fill="#f6cdcf" />
<rect x="275.32" y="655.04" width="21.94" height="20.26" fill="#f4b9bd" />
<rect x="296.96" y="655.04" width="21.94" height="20.26" fill="#f2acb1" />
<text x="221.22" y="583.88" font-size="6.55" text-anchor="middle" fill="#ffffff" stroke="#ffffff" stroke-width="0.08"  fill-opacity="0.9">70.25</text>
<text x="221.22" y="590.68" font-size="6.55" text-anchor="middle" fill="#ffffff" stroke="#ffffff" stroke-width="0.08"  fill-opacity="0.9"><tspan fill-opacity="0.8" stroke-width="0.05">±</tspan><tspan dx="2.4" letter-spacing="0.35">2.06</tspan></text>
<text x="242.86" y="583.88" font-size="6.55" text-anchor="middle" fill="#ffffff" stroke="#ffffff" stroke-width="0.08"  fill-opacity="0.9">83.1</text>
<text x="242.86" y="590.68" font-size="6.55" text-anchor="middle" fill="#ffffff" stroke="#ffffff" stroke-width="0.08"  fill-opacity="0.9"><tspan fill-opacity="0.8" stroke-width="0.05">±</tspan><tspan dx="2.4" letter-spacing="0.35">1.56</tspan></text>
<text x="264.5" y="583.88" font-size="6.55" text-anchor="middle" fill="#ffffff" stroke="#ffffff" stroke-width="0.08"  fill-opacity="0.9">88.98</text>
<text x="264.5" y="590.68" font-size="6.55" text-anchor="middle" fill="#ffffff" stroke="#ffffff" stroke-width="0.08"  fill-opacity="0.9"><tspan fill-opacity="0.8" stroke-width="0.05">±</tspan><tspan dx="2.4" letter-spacing="0.35">1.52</tspan></text>
<text x="286.14" y="583.88" font-size="6.55" text-anchor="middle" fill="#ffffff" stroke="#ffffff" stroke-width="0.08"  fill-opacity="0.9">91.85</text>
<text x="286.14" y="590.68" font-size="6.55" text-anchor="middle" fill="#ffffff" stroke="#ffffff" stroke-width="0.08"  fill-opacity="0.9"><tspan fill-opacity="0.8" stroke-width="0.05">±</tspan><tspan dx="2.4" letter-spacing="0.35">0.57</tspan></text>
<text x="307.78" y="583.88" font-size="6.55" text-anchor="middle" fill="#ffffff" stroke="#ffffff" stroke-width="0.08"  fill-opacity="0.9">92.9</text>
<text x="307.78" y="590.68" font-size="6.55" text-anchor="middle" fill="#ffffff" stroke="#ffffff" stroke-width="0.08"  fill-opacity="0.9"><tspan fill-opacity="0.8" stroke-width="0.05">±</tspan><tspan dx="2.4" letter-spacing="0.35">1.19</tspan></text>
<text x="221.22" y="603.84" font-size="6.55" text-anchor="middle" fill="#ffffff" stroke="#ffffff" stroke-width="0.08"  fill-opacity="0.9">47.22</text>
<text x="221.22" y="610.64" font-size="6.55" text-anchor="middle" fill="#ffffff" stroke="#ffffff" stroke-width="0.08"  fill-opacity="0.9"><tspan fill-opacity="0.8" stroke-width="0.05">±</tspan><tspan dx="2.4" letter-spacing="0.35">1.46</tspan></text>
<text x="242.86" y="603.84" font-size="6.55" text-anchor="middle" fill="#ffffff" stroke="#ffffff" stroke-width="0.08"  fill-opacity="0.9">68.65</text>
<text x="242.86" y="610.64" font-size="6.55" text-anchor="middle" fill="#ffffff" stroke="#ffffff" stroke-width="0.08"  fill-opacity="0.9"><tspan fill-opacity="0.8" stroke-width="0.05">±</tspan><tspan dx="2.4" letter-spacing="0.35">1.67</tspan></text>
<text x="264.5" y="603.84" font-size="6.55" text-anchor="middle" fill="#ffffff" stroke="#ffffff" stroke-width="0.08"  fill-opacity="0.9">80.78</text>
<text x="264.5" y="610.64" font-size="6.55" text-anchor="middle" fill="#ffffff" stroke="#ffffff" stroke-width="0.08"  fill-opacity="0.9"><tspan fill-opacity="0.8" stroke-width="0.05">±</tspan><tspan dx="2.4" letter-spacing="0.35">1.21</tspan></text>
<text x="286.14" y="603.84" font-size="6.55" text-anchor="middle" fill="#ffffff" stroke="#ffffff" stroke-width="0.08"  fill-opacity="0.9">87.53</text>
<text x="286.14" y="610.64" font-size="6.55" text-anchor="middle" fill="#ffffff" stroke="#ffffff" stroke-width="0.08"  fill-opacity="0.9"><tspan fill-opacity="0.8" stroke-width="0.05">±</tspan><tspan dx="2.4" letter-spacing="0.35">0.57</tspan></text>
<text x="307.78" y="603.84" font-size="6.55" text-anchor="middle" fill="#ffffff" stroke="#ffffff" stroke-width="0.08"  fill-opacity="0.9">90.35</text>
<text x="307.78" y="610.64" font-size="6.55" text-anchor="middle" fill="#ffffff" stroke="#ffffff" stroke-width="0.08"  fill-opacity="0.9"><tspan fill-opacity="0.8" stroke-width="0.05">±</tspan><tspan dx="2.4" letter-spacing="0.35">1.04</tspan></text>
<text x="221.22" y="623.8" font-size="6.55" text-anchor="middle" fill="#333333" stroke="#333333" stroke-width="0.26" >26</text>
<text x="221.22" y="630.6" font-size="6.55" text-anchor="middle" fill="#333333" stroke="#333333" stroke-width="0.26" ><tspan fill-opacity="0.8" stroke-width="0.05">±</tspan><tspan dx="2.4" letter-spacing="0.35">4.05</tspan></text>
<text x="242.86" y="623.8" font-size="6.55" text-anchor="middle" fill="#ffffff" stroke="#ffffff" stroke-width="0.08"  fill-opacity="0.9">48.55</text>
<text x="242.86" y="630.6" font-size="6.55" text-anchor="middle" fill="#ffffff" stroke="#ffffff" stroke-width="0.08"  fill-opacity="0.9"><tspan fill-opacity="0.8" stroke-width="0.05">±</tspan><tspan dx="2.4" letter-spacing="0.35">1.68</tspan></text>
<text x="264.5" y="623.8" font-size="6.55" text-anchor="middle" fill="#ffffff" stroke="#ffffff" stroke-width="0.08"  fill-opacity="0.9">64.45</text>
<text x="264.5" y="630.6" font-size="6.55" text-anchor="middle" fill="#ffffff" stroke="#ffffff" stroke-width="0.08"  fill-opacity="0.9"><tspan fill-opacity="0.8" stroke-width="0.05">±</tspan><tspan dx="2.4" letter-spacing="0.35">1.84</tspan></text>
<text x="286.14" y="623.8" font-size="6.55" text-anchor="middle" fill="#ffffff" stroke="#ffffff" stroke-width="0.08"  fill-opacity="0.9">75.1</text>
<text x="286.14" y="630.6" font-size="6.55" text-anchor="middle" fill="#ffffff" stroke="#ffffff" stroke-width="0.08"  fill-opacity="0.9"><tspan fill-opacity="0.8" stroke-width="0.05">±</tspan><tspan dx="2.4" letter-spacing="0.35">2.26</tspan></text>
<text x="307.78" y="623.8" font-size="6.55" text-anchor="middle" fill="#ffffff" stroke="#ffffff" stroke-width="0.08"  fill-opacity="0.9">81.72</text>
<text x="307.78" y="630.6" font-size="6.55" text-anchor="middle" fill="#ffffff" stroke="#ffffff" stroke-width="0.08"  fill-opacity="0.9"><tspan fill-opacity="0.8" stroke-width="0.05">±</tspan><tspan dx="2.4" letter-spacing="0.35">0.67</tspan></text>
<text x="221.22" y="643.76" font-size="6.55" text-anchor="middle" fill="#333333" stroke="#333333" stroke-width="0.26" >7.9</text>
<text x="221.22" y="650.56" font-size="6.55" text-anchor="middle" fill="#333333" stroke="#333333" stroke-width="0.26" ><tspan fill-opacity="0.8" stroke-width="0.05">±</tspan><tspan dx="2.4" letter-spacing="0.35">3.51</tspan></text>
<text x="242.86" y="643.76" font-size="6.55" text-anchor="middle" fill="#333333" stroke="#333333" stroke-width="0.26" >29.73</text>
<text x="242.86" y="650.56" font-size="6.55" text-anchor="middle" fill="#333333" stroke="#333333" stroke-width="0.26" ><tspan fill-opacity="0.8" stroke-width="0.05">±</tspan><tspan dx="2.4" letter-spacing="0.35">2.96</tspan></text>
<text x="264.5" y="643.76" font-size="6.55" text-anchor="middle" fill="#ffffff" stroke="#ffffff" stroke-width="0.08"  fill-opacity="0.9">44.08</text>
<text x="264.5" y="650.56" font-size="6.55" text-anchor="middle" fill="#ffffff" stroke="#ffffff" stroke-width="0.08"  fill-opacity="0.9"><tspan fill-opacity="0.8" stroke-width="0.05">±</tspan><tspan dx="2.4" letter-spacing="0.35">1.69</tspan></text>
<text x="286.14" y="643.76" font-size="6.55" text-anchor="middle" fill="#ffffff" stroke="#ffffff" stroke-width="0.08"  fill-opacity="0.9">57.65</text>
<text x="286.14" y="650.56" font-size="6.55" text-anchor="middle" fill="#ffffff" stroke="#ffffff" stroke-width="0.08"  fill-opacity="0.9"><tspan fill-opacity="0.8" stroke-width="0.05">±</tspan><tspan dx="2.4" letter-spacing="0.35">2.99</tspan></text>
<text x="307.78" y="643.76" font-size="6.55" text-anchor="middle" fill="#ffffff" stroke="#ffffff" stroke-width="0.08"  fill-opacity="0.9">68.5</text>
<text x="307.78" y="650.56" font-size="6.55" text-anchor="middle" fill="#ffffff" stroke="#ffffff" stroke-width="0.08"  fill-opacity="0.9"><tspan fill-opacity="0.8" stroke-width="0.05">±</tspan><tspan dx="2.4" letter-spacing="0.35">2.15</tspan></text>
<text x="221.22" y="663.72" font-size="6.55" text-anchor="middle" fill="#333333" stroke="#333333" stroke-width="0.26" >0</text>
<text x="221.22" y="670.52" font-size="6.55" text-anchor="middle" fill="#333333" stroke="#333333" stroke-width="0.26" ><tspan fill-opacity="0.8" stroke-width="0.05">±</tspan><tspan dx="2.4" letter-spacing="0.35">0</tspan></text>
<text x="242.86" y="663.72" font-size="6.55" text-anchor="middle" fill="#333333" stroke="#333333" stroke-width="0.26" >14.75</text>
<text x="242.86" y="670.52" font-size="6.55" text-anchor="middle" fill="#333333" stroke="#333333" stroke-width="0.26" ><tspan fill-opacity="0.8" stroke-width="0.05">±</tspan><tspan dx="2.4" letter-spacing="0.35">2.44</tspan></text>
<text x="264.5" y="663.72" font-size="6.55" text-anchor="middle" fill="#333333" stroke="#333333" stroke-width="0.26" >22.55</text>
<text x="264.5" y="670.52" font-size="6.55" text-anchor="middle" fill="#333333" stroke="#333333" stroke-width="0.26" ><tspan fill-opacity="0.8" stroke-width="0.05">±</tspan><tspan dx="2.4" letter-spacing="0.35">2.29</tspan></text>
<text x="286.14" y="663.72" font-size="6.55" text-anchor="middle" fill="#333333" stroke="#333333" stroke-width="0.26" >30.92</text>
<text x="286.14" y="670.52" font-size="6.55" text-anchor="middle" fill="#333333" stroke="#333333" stroke-width="0.26" ><tspan fill-opacity="0.8" stroke-width="0.05">±</tspan><tspan dx="2.4" letter-spacing="0.35">2.16</tspan></text>
<text x="307.78" y="663.72" font-size="6.55" text-anchor="middle" fill="#333333" stroke="#333333" stroke-width="0.26" >36.4</text>
<text x="307.78" y="670.52" font-size="6.55" text-anchor="middle" fill="#333333" stroke="#333333" stroke-width="0.26" ><tspan fill-opacity="0.8" stroke-width="0.05">±</tspan><tspan dx="2.4" letter-spacing="0.35">1.81</tspan></text>
<line x1="210.4" y1="575.2" x2="210.4" y2="675.6" stroke="#000" stroke-width="1.15" />
<line x1="209.8" y1="675" x2="318.6" y2="675" stroke="#000" stroke-width="1.15" />
<line x1="206.9" y1="585.18" x2="209.9" y2="585.18" stroke="#111" stroke-width="1" />
<text x="204" y="587.58" font-size="6.7" text-anchor="end" stroke="#2b2b2b" stroke-width="0.22" >50</text>
<line x1="206.9" y1="605.14" x2="209.9" y2="605.14" stroke="#111" stroke-width="1" />
<text x="204" y="607.54" font-size="6.7" text-anchor="end" stroke="#2b2b2b" stroke-width="0.22" >25</text>
<line x1="206.9" y1="625.1" x2="209.9" y2="625.1" stroke="#111" stroke-width="1" />
<text x="204" y="627.5" font-size="6.7" text-anchor="end" stroke="#2b2b2b" stroke-width="0.22" >12.5</text>
<line x1="206.9" y1="645.06" x2="209.9" y2="645.06" stroke="#111" stroke-width="1" />
<text x="204" y="647.46" font-size="6.7" text-anchor="end" stroke="#2b2b2b" stroke-width="0.22" >6.25</text>
<line x1="206.9" y1="665.02" x2="209.9" y2="665.02" stroke="#111" stroke-width="1" />
<text x="204" y="667.42" font-size="6.7" text-anchor="end" stroke="#2b2b2b" stroke-width="0.22" >0</text>
<line x1="221.22" y1="675" x2="221.22" y2="678.2" stroke="#111" stroke-width="1" />
<text x="221.22" y="687.5" font-size="6.5" text-anchor="middle" stroke="#2b2b2b" stroke-width="0.22" >0</text>
<line x1="242.86" y1="675" x2="242.86" y2="678.2" stroke="#111" stroke-width="1" />
<text x="242.86" y="687.5" font-size="6.5" text-anchor="middle" stroke="#2b2b2b" stroke-width="0.22" >100</text>
<line x1="264.5" y1="675" x2="264.5" y2="678.2" stroke="#111" stroke-width="1" />
<text x="264.5" y="687.5" font-size="6.5" text-anchor="middle" stroke="#2b2b2b" stroke-width="0.22" >200</text>
<line x1="286.14" y1="675" x2="286.14" y2="678.2" stroke="#111" stroke-width="1" />
<text x="286.14" y="687.5" font-size="6.5" text-anchor="middle" stroke="#2b2b2b" stroke-width="0.22" >300</text>
<line x1="307.78" y1="675" x2="307.78" y2="678.2" stroke="#111" stroke-width="1" />
<text x="307.78" y="687.5" font-size="6.5" text-anchor="middle" stroke="#2b2b2b" stroke-width="0.22" >400</text>
<text x="264.5" y="570.8" font-size="6.5" text-anchor="middle" stroke="#2b2b2b" stroke-width="0.22" >BJAB</text>
<text x="264.5" y="698.8" font-size="7.5" text-anchor="middle" textLength="39.2" lengthAdjust="spacingAndGlyphs" stroke="#2b2b2b" stroke-width="0.3" >LNS-8801 [nM]</text>
<text transform="translate(185.7,624) rotate(-90)" font-size="6.6" text-anchor="middle" textLength="71.3" lengthAdjust="spacingAndGlyphs" stroke="#2b2b2b" stroke-width="0.25" >Polatuzumab vedotin [ng/ml]</text>
<defs><linearGradient id="cbE" x1="0" y1="0" x2="0" y2="1"><stop offset="0.0000" stop-color="#d4291f"/><stop offset="0.0250" stop-color="#db2e23"/><stop offset="0.0500" stop-color="#e23426"/><stop offset="0.0750" stop-color="#e73d2d"/><stop offset="0.1000" stop-color="#e84a38"/><stop offset="0.1250" stop-color="#e95742"/><stop offset="0.1500" stop-color="#eb634c"/><stop offset="0.1750" stop-color="#ec7057"/><stop offset="0.2000" stop-color="#ed7b62"/><stop offset="0.2250" stop-color="#ee876e"/><stop offset="0.2500" stop-color="#ef9279"/><stop offset="0.2750" stop-color="#f09e85"/><stop offset="0.3000" stop-color="#f2a992"/><stop offset="0.3250" stop-color="#f4b5a1"/><stop offset="0.3500" stop-color="#f6c1af"/><stop offset="0.3750" stop-color="#f8cdbe"/><stop offset="0.4000" stop-color="#fad8cc"/><stop offset="0.4250" stop-color="#fbe2d9"/><stop offset="0.4500" stop-color="#fcece6"/><stop offset="0.4750" stop-color="#fef6f3"/><stop offset="0.5000" stop-color="#fffffe"/><stop offset="0.5250" stop-color="#f8fbf5"/><stop offset="0.5500" stop-color="#f2f7ec"/><stop offset="0.5750" stop-color="#ecf3e3"/><stop offset="0.6000" stop-color="#e6efda"/><stop offset="0.6250" stop-color="#dfebce"/><stop offset="0.6500" stop-color="#d7e7c1"/><stop offset="0.6750" stop-color="#d0e3b5"/><stop offset="0.7000" stop-color="#c9dfa8"/><stop offset="0.7250" stop-color="#c1da9c"/><stop offset="0.7500" stop-color="#b9d690"/><stop offset="0.7750" stop-color="#b1d185"/><stop offset="0.8000" stop-color="#a8cd7a"/><stop offset="0.8250" stop-color="#a0c86e"/><stop offset="0.8500" stop-color="#98c364"/><stop offset="0.8750" stop-color="#90bf59"/><stop offset="0.9000" stop-color="#88ba4f"/><stop offset="0.9250" stop-color="#80b645"/><stop offset="0.9500" stop-color="#79b03d"/><stop offset="0.9750" stop-color="#74ab38"/><stop offset="1.0000" stop-color="#6ea532"/></linearGradient></defs>
<rect x="328.1" y="441.7" width="13.2" height="56.2" fill="url(#cbE)" />
<text x="344.5" y="447.5" font-size="6.5" fill="#333" stroke="#333" stroke-width="0.22" >100</text>
<text x="344.5" y="459.75" font-size="6.5" fill="#333" stroke="#333" stroke-width="0.22" >50</text>
<text x="344.5" y="472" font-size="6.5" fill="#333" stroke="#333" stroke-width="0.22" >0</text>
<text x="344.5" y="484.25" font-size="6.5" fill="#333" stroke="#333" stroke-width="0.22" >−50</text>
<text x="344.5" y="496.5" font-size="6.5" fill="#333" stroke="#333" stroke-width="0.22" >−100</text>
<text x="327.8" y="436.8" font-size="6.5" fill="#4a4a4a" stroke="#4a4a4a" stroke-width="0.12" >Inhibition (%)</text>
<defs><linearGradient id="cbF" x1="0" y1="0" x2="0" y2="1"><stop offset="0.0000" stop-color="#d52920"/><stop offset="0.0250" stop-color="#dc2f23"/><stop offset="0.0500" stop-color="#e33527"/><stop offset="0.0750" stop-color="#e73f2e"/><stop offset="0.1000" stop-color="#e84b39"/><stop offset="0.1250" stop-color="#ea5843"/><stop offset="0.1500" stop-color="#eb654d"/><stop offset="0.1750" stop-color="#ec7158"/><stop offset="0.2000" stop-color="#ed7c63"/><stop offset="0.2250" stop-color="#ee886f"/><stop offset="0.2500" stop-color="#ef937a"/><stop offset="0.2750" stop-color="#f09f86"/><stop offset="0.3000" stop-color="#f2ab94"/><stop offset="0.3250" stop-color="#f4b7a3"/><stop offset="0.3500" stop-color="#f6c3b1"/><stop offset="0.3750" stop-color="#f8cfc0"/><stop offset="0.4000" stop-color="#fadacd"/><stop offset="0.4250" stop-color="#fbe3da"/><stop offset="0.4500" stop-color="#fdede8"/><stop offset="0.4750" stop-color="#fef7f5"/><stop offset="0.5000" stop-color="#fefefd"/><stop offset="0.5250" stop-color="#f7faf4"/><stop offset="0.5500" stop-color="#f1f6eb"/><stop offset="0.5750" stop-color="#ebf2e1"/><stop offset="0.6000" stop-color="#e5efd8"/><stop offset="0.6250" stop-color="#deeacc"/><stop offset="0.6500" stop-color="#d6e6bf"/><stop offset="0.6750" stop-color="#cfe2b3"/><stop offset="0.7000" stop-color="#c8dea6"/><stop offset="0.7250" stop-color="#c0da9a"/><stop offset="0.7500" stop-color="#b7d58f"/><stop offset="0.7750" stop-color="#afd083"/><stop offset="0.8000" stop-color="#a7cc78"/><stop offset="0.8250" stop-color="#9fc76c"/><stop offset="0.8500" stop-color="#97c362"/><stop offset="0.8750" stop-color="#8ebe57"/><stop offset="0.9000" stop-color="#86b94d"/><stop offset="0.9250" stop-color="#7eb543"/><stop offset="0.9500" stop-color="#78af3c"/><stop offset="0.9750" stop-color="#72a936"/><stop offset="1.0000" stop-color="#6da431"/></linearGradient></defs>
<rect x="329.2" y="601.2" width="13" height="56.6" fill="url(#cbF)" />
<text x="345.6" y="606.9" font-size="6.5" fill="#333" stroke="#333" stroke-width="0.22" >100</text>
<text x="345.6" y="619.2" font-size="6.5" fill="#333" stroke="#333" stroke-width="0.22" >50</text>
<text x="345.6" y="631.5" font-size="6.5" fill="#333" stroke="#333" stroke-width="0.22" >0</text>
<text x="345.6" y="643.8" font-size="6.5" fill="#333" stroke="#333" stroke-width="0.22" >−50</text>
<text x="345.6" y="656.1" font-size="6.5" fill="#333" stroke="#333" stroke-width="0.22" >−100</text>
<text x="329" y="596.5" font-size="6.5" fill="#4a4a4a" stroke="#4a4a4a" stroke-width="0.12" >Inhibition (%)</text>
<rect x="0.5" y="0.5" width="519" height="707" fill="none" stroke="#4d4d4d" stroke-width="1"/>
</svg>
</body></html>
